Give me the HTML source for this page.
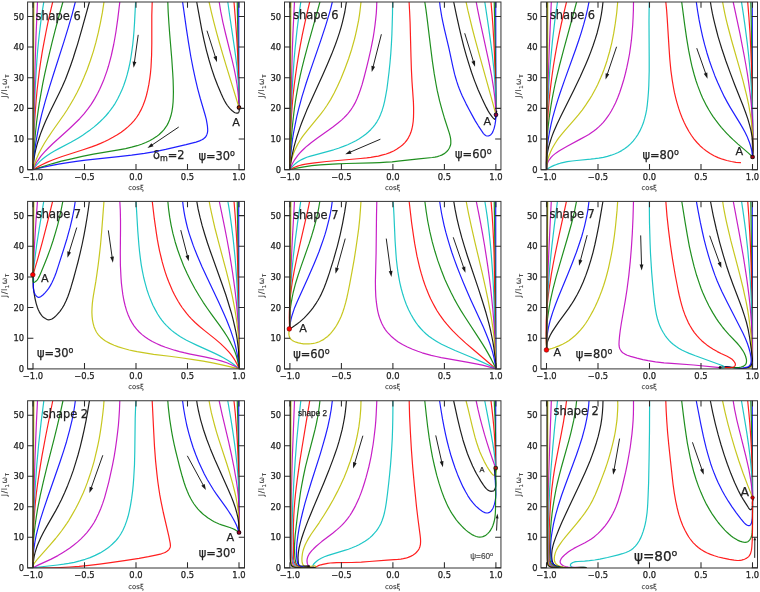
<!DOCTYPE html><html><head><meta charset="utf-8"><title>Alignment trajectories</title><style>html,body{margin:0;padding:0;background:#fff}svg{display:block}text{font-family:"DejaVu Sans","Liberation Sans",sans-serif;fill:#222;stroke:#222;stroke-width:0.25px}</style></head><body>
<svg width="760" height="592" viewBox="0 0 760 592">
<rect width="760" height="592" fill="#fff"/>
<defs>
<clipPath id="cp00"><rect x="27.60" y="2.00" width="216.90" height="167.70"/></clipPath>
<clipPath id="cp01"><rect x="284.50" y="2.00" width="216.45" height="167.70"/></clipPath>
<clipPath id="cp02"><rect x="540.95" y="2.00" width="216.55" height="167.70"/></clipPath>
<clipPath id="cp10"><rect x="27.60" y="201.40" width="216.90" height="167.50"/></clipPath>
<clipPath id="cp11"><rect x="284.50" y="201.40" width="216.45" height="167.50"/></clipPath>
<clipPath id="cp12"><rect x="540.95" y="201.40" width="216.55" height="167.50"/></clipPath>
<clipPath id="cp20"><rect x="27.60" y="400.75" width="216.90" height="167.25"/></clipPath>
<clipPath id="cp21"><rect x="284.50" y="400.75" width="216.45" height="167.25"/></clipPath>
<clipPath id="cp22"><rect x="540.95" y="400.75" width="216.55" height="167.25"/></clipPath>
</defs>
<g id="panel00">
<g clip-path="url(#cp00)" fill="none" stroke-linecap="round" stroke-linejoin="round" stroke-opacity="0.88">
<path d="M238.69,2.00L238.98,107.52" stroke="#0000ff" stroke-width="1.20"/>
<path d="M237.26,2.00C237.73,30.01 238.40,67.23 238.69,86.04C238.83,95.55 238.88,100.36 238.98,107.52" stroke="#008000" stroke-width="1.20"/>
<path d="M234.0,2.0l1.1,13.5l1,13.1l0.9,13.5l0.7,13.1l0.6,13.1l0.4,13l0.2,13.1l0.1,13.1" stroke="#ff0000" stroke-width="1.20"/>
<path d="M227.8,2.0l1.5,11l5.1,34.3l1.5,11l1.1,9.5l1,11l0.7,10.1l0.3,9.5l0,9.1" stroke="#00bfbf" stroke-width="1.20"/>
<path d="M219.2,2.0l1.5,9.4l2.2,10.9l2.5,10.7l6.8,27.4l1.9,8.3l1.5,7.4l1.4,8.4l1,8l0.7,7.5l0.3,7.5" stroke="#bf00bf" stroke-width="1.20"/>
<path d="M209.1,2.0l2.2,9.8l2.4,9.8l2.8,10.7l3.1,11.2l3.1,10.6l3.6,12.1l12.7,41.3" stroke="#bfbf00" stroke-width="1.20"/>
<path d="M196.7,2.0l2.9,15.9l2.2,11.9l2.3,10.8l2.3,9.7l2.5,9.2l2.7,9.1l2.9,8.6l3.1,8.1l3.6,8.5l1.7,3.7l1.6,3.2l1.5,2.7l1.4,2.1l1.5,1.9l1.3,1.5l1.7,1.6l1.9,1.4l1.2,0.8l0.9,0.3l0.8,0.2l0.4,0l0.7,-0.1l0.4,-0.2l0.5,-0.6l0.2,-0.4l0.3,-1.1l0.1,-0.6l-0.2,-1.4l-0.1,-0.9" stroke="#000000" stroke-width="1.20"/>
<path d="M182.6,2.0l3.8,26.8l2.2,14.4l2.2,13.3l2.4,12.3l2.2,10.3l2.3,9.7l2.6,9.7l4.7,16l1.3,4.9l0.7,3.9l0.4,2.5l0.2,2.5l0.1,2l-0.1,1.5l-0.4,1.8l-0.5,1.3l-0.6,1.3l-0.8,1.1l-1.4,1.2l-0.7,0.6l-1.3,0.7l-2.3,1.1l-3.6,1.2l-10,2.6l-10.6,2.5l-9.7,2.2l-9.4,1.9l-11.8,2l-12.9,1.8l-13,1.5l-32.9,3.6l-9.4,1.2l-8.4,1.2l-9.4,1.5l-8.9,1.7l-8.3,1.8l-8.3,2.1" stroke="#0000ff" stroke-width="1.20"/>
<path d="M167.8,2.0l0.4,10.2l0.7,11.1l0.8,10.8l2.1,25.1l0.9,13.5l0.4,7.1l0.2,6.7l0.1,5.7l-0.1,4.7l-0.2,5.1l-0.5,5.1l-0.7,4.5l-1,4.2l-0.8,2.4l-0.6,1.8l-1.5,3.4l-0.9,1.7l-1,1.6l-1.9,2.7l-2.2,2.4l-2.8,2.7l-2.7,2.1l-3.4,2.2l-3.5,2l-3.8,1.7l-4.3,1.8l-4.4,1.4l-5.5,1.5l-6,1.4l-5.5,1l-16.3,2.7l-10.4,1.9l-11.2,2.2l-10.6,2.4l-10.2,2.4l-9.6,2.6l-9.6,2.9l-9.2,3" stroke="#008000" stroke-width="1.20"/>
<path d="M152.2,2.0l-0.2,6.5l-0.2,6.9l0,28.2l-0.2,11.6l-0.3,6l-0.3,6l-0.5,5.6l-0.7,5.5l-0.9,5.9l-1.2,6l-1.3,5.3l-1.6,5.3l-1.8,4.7l-2,4.4l-2.1,3.9l-2.4,3.7l-2.4,3.1l-3,3.3l-2.9,2.7l-3.4,2.9l-3.6,2.7l-3.9,2.6l-4.4,2.5l-4.5,2.4l-3.6,1.8l-4.2,1.9l-4.2,1.7l-4.8,1.8l-8.5,2.9l-21,6.7l-5.6,2l-4.6,1.8l-5.1,2.1l-5,2.3l-4.4,2.4l-4.4,2.6" stroke="#ff0000" stroke-width="1.20"/>
<path d="M135.6,2.0l-1.1,21.4l-0.5,7.6l-0.6,7.1l-0.7,6.7l-0.9,6.6l-0.9,6.1l-1.1,6.1l-1.3,5.9l-1.4,5.4l-1.6,5.4l-1.8,5.2l-1.8,4.6l-2.1,4.5l-2.2,4.4l-2.4,4.3l-2.2,3.3l-2,2.8l-2.4,3.1l-2.5,3l-2.7,2.9l-3.2,3.1l-3,2.7l-3.4,2.9l-3.6,2.8l-3.7,2.7l-3.8,2.6l-4.3,2.7l-3.5,2.1l-4,2.3l-12.1,6.3l-4.4,2.4l-3.8,2.3l-3.7,2.4l-2.4,1.8l-1.9,1.5l-1.8,1.6l-1.8,1.7l-1.7,1.8l-1.6,1.9l-1.6,2l-1.1,1.7" stroke="#00bfbf" stroke-width="1.20"/>
<path d="M119.8,2.0l-2,16.6l-1.9,13.4l-1.1,6.5l-1.1,6l-1.2,5.5l-1.2,5.5l-1.4,5.4l-1.5,5.4l-1.5,4.8l-1.7,4.8l-1.7,4.7l-1.8,4.1l-2,4.6l-2,4l-3.1,5.6l-3.4,5.5l-3.5,4.8l-3.7,4.7l-4.3,4.8l-5.4,5.3l-5.5,5.2l-15.8,14.3l-4.6,4.5l-3.8,3.9l-2,2.3l-1.9,2.2l-1.7,2.4l-1.4,2l-1.3,2.1l-1.2,2.2l-1.1,2.3l-1,2.3" stroke="#bf00bf" stroke-width="1.20"/>
<path d="M104.0,2.0l-1.6,10.4l-2,10.4l-2.1,9.9l-2.4,9.7l-2.6,9.2l-3,9.1l-3.2,9l-3.4,8.4l-3.2,7.3l-3.3,6.8l-3.5,6.6l-3.8,6.5l-2.9,4.7l-3.3,5l-11.6,16.5l-3.9,5.8l-3.5,5.5l-3,5.2l-3,5.7l-1.2,2.7l-1.2,2.8l-1.8,5.1l-0.9,2.9l-0.6,2.5" stroke="#bfbf00" stroke-width="1.20"/>
<path d="M89.4,2.0l-7.5,27.1l-4.3,15l-2.3,7.2l-2.1,6.7l-2.3,6.7l-2.2,6.1l-3.2,8.4l-3.2,7.3l-2.8,5.9l-8.9,18l-4.9,10.5l-1.9,4.6l-1.7,4.2l-1.6,4.2l-1.3,3.8l-1.4,4.3l-1.1,3.8l-1.1,4.4l-0.8,3.9l-0.7,4l-0.5,4l-0.4,4l-0.2,3.6" stroke="#000000" stroke-width="1.20"/>
<path d="M75.3,2.0l-3.1,12.1l-3.8,13.1l-4.6,14.9l-10,31.1l-4.2,13.4l-4.3,14.5l-3.4,12.6l-1.9,7.8l-1.6,7.3l-1.4,7.4l-1.2,6.9l-1,7l-0.8,6.5l-0.6,6.5l-0.4,6.6" stroke="#0000ff" stroke-width="1.20"/>
<path d="M62.9,2.0l-4.2,15l-3.5,13.1l-3,11.7l-2.7,11.3l-2.5,10.7l-2.3,10.3l-2,9.8l-1.7,9.4l-1.7,9.9l-1.4,9.4l-1.3,9.5l-1,9.4l-0.9,9.6l-0.8,9.5l-0.5,9.5l-0.4,9.6" stroke="#008000" stroke-width="1.20"/>
<path d="M52.7,2.0l-2.5,10.3l-2.2,9.8l-2,9.9l-1.9,9.8l-1.8,9.9l-1.6,9.9l-1.4,9.9l-1.2,10l-1.1,9.5l-0.9,10l-0.8,10.5l-0.7,10.5l-0.6,11l-0.4,11.6l-0.3,12l-0.3,13.1" stroke="#ff0000" stroke-width="1.20"/>
<path d="M43.8,2.0l-1.3,7.9l-1.2,8l-1,8l-1,8.4l-0.9,8.5l-0.8,8.5l-0.7,9l-0.6,9.5l-1.1,18.6l-0.7,20.1l-0.6,21.5l-0.9,39.7" stroke="#00bfbf" stroke-width="1.20"/>
<path d="M37.5,2.0l-1.5,34.1l-1.2,37.7l-0.9,41.7l-0.9,54.2" stroke="#bf00bf" stroke-width="1.20"/>
<path d="M33.9,2.0l-0.2,33.6l-0.2,86.9l-0.2,24.6l-0.3,22.6" stroke="#bfbf00" stroke-width="1.20"/>
<path d="M33.00,-2.00L33.00,169.70" stroke="#000000" stroke-width="1.20"/>
</g>
<path d="M138.21,34.84L134.33,62.72" stroke="#222" stroke-width="1.00" fill="none"/>
<path d="M133.64,67.67L132.59,61.47L136.35,61.99Z" fill="#1a1a1a"/>
<path d="M206.99,30.68L215.52,57.47" stroke="#222" stroke-width="1.00" fill="none"/>
<path d="M217.03,62.24L213.40,57.10L217.02,55.94Z" fill="#1a1a1a"/>
<path d="M178.74,127.02L151.62,145.31" stroke="#222" stroke-width="1.00" fill="none"/>
<path d="M147.47,148.11L151.39,143.18L153.51,146.33Z" fill="#1a1a1a"/>
<circle cx="238.98" cy="107.52" r="1.80" fill="#b03000" stroke="#250000" stroke-width="1.10"/>
<rect x="27.60" y="2.00" width="216.90" height="167.70" fill="none" stroke="#333" stroke-width="1"/>
<path d="M33.00,169.70v-5.8M33.00,2.00v5.8M84.50,169.70v-5.8M84.50,2.00v5.8M136.00,169.70v-5.8M136.00,2.00v5.8M187.50,169.70v-5.8M187.50,2.00v5.8M239.00,169.70v-5.8M239.00,2.00v5.8M27.60,169.70h5.8M244.50,169.70h-5.8M27.60,139.04h5.8M244.50,139.04h-5.8M27.60,108.38h5.8M244.50,108.38h-5.8M27.60,77.72h5.8M244.50,77.72h-5.8M27.60,47.06h5.8M244.50,47.06h-5.8M27.60,16.40h5.8M244.50,16.40h-5.8" stroke="#2a2a2a" stroke-width="1.05" fill="none"/>
<text x="33.00" y="179.90" font-size="8.4" text-anchor="middle">−1.0</text>
<text x="84.50" y="179.90" font-size="8.4" text-anchor="middle">−0.5</text>
<text x="136.00" y="179.90" font-size="8.4" text-anchor="middle">0.0</text>
<text x="187.50" y="179.90" font-size="8.4" text-anchor="middle">0.5</text>
<text x="239.00" y="179.90" font-size="8.4" text-anchor="middle">1.0</text>
<text x="24.20" y="172.80" font-size="8.4" text-anchor="end">0</text>
<text x="24.20" y="142.14" font-size="8.4" text-anchor="end">10</text>
<text x="24.20" y="111.48" font-size="8.4" text-anchor="end">20</text>
<text x="24.20" y="80.82" font-size="8.4" text-anchor="end">30</text>
<text x="24.20" y="50.16" font-size="8.4" text-anchor="end">40</text>
<text x="24.20" y="19.50" font-size="8.4" text-anchor="end">50</text>
<text x="136.05" y="190.20" font-size="6.9" text-anchor="middle" style="fill:#3a3a3a;stroke:#3a3a3a;stroke-width:0.12px">cosξ</text>
<text transform="translate(7.40,85.85) rotate(-90)" font-size="7.9" text-anchor="middle" letter-spacing="0.55" style="fill:#3a3a3a;stroke:#3a3a3a;stroke-width:0.12px">J/I<tspan font-size="5.4" dy="2">1</tspan><tspan dy="-2">ω</tspan><tspan font-size="5.4" dy="2">T</tspan></text>
<text x="235.96" y="126.02" font-size="11.20" text-anchor="middle">A</text>
<text x="35.46" y="19.93" font-size="11.40" text-anchor="start">shape 6</text>
<text x="152.92" y="159.01" font-size="11.40" text-anchor="start">δ<tspan font-size="8" dy="2">m</tspan><tspan dy="-2">=2</tspan></text>
<text x="198.39" y="159.72" font-size="11.40" text-anchor="start">ψ=30<tspan font-size="8" dy="-4">o</tspan></text>
</g>
<g id="panel01">
<g clip-path="url(#cp01)" fill="none" stroke-linecap="round" stroke-linejoin="round" stroke-opacity="0.88">
<path d="M495.69,2.00L495.98,114.83" stroke="#0000ff" stroke-width="1.20"/>
<path d="M494.26,2.00C494.64,21.12 495.11,40.41 495.40,59.37C495.69,78.01 495.79,96.34 495.98,114.83" stroke="#008000" stroke-width="1.20"/>
<path d="M491.0,2.0l1,11.6l0.9,12l0.7,12.1l0.7,13.1l0.5,13.6l0.5,14.6l0.7,35.8" stroke="#ff0000" stroke-width="1.20"/>
<path d="M484.8,2.0l3.5,23.3l2.2,15.5l1.8,13.9l1.4,13l1.1,12.5l0.7,12l0.4,11.6l0.1,11" stroke="#00bfbf" stroke-width="1.20"/>
<path d="M476.2,2.0l1.6,8.4l2,9.8l8.7,39.9l1.7,8.3l1.5,8l1.7,10.4l1.3,9.9l0.8,9.1l0.5,9" stroke="#bf00bf" stroke-width="1.20"/>
<path d="M466.1,2.0l1.8,8.4l2.1,8.8l2.3,9.3l2.5,9.7l4.9,18l11.4,40.7l4.9,17.9" stroke="#bfbf00" stroke-width="1.20"/>
<path d="M453.7,2.0l2.9,13.8l2.5,11.3l2.4,10.3l2.3,9.2l2.6,9.2l2.6,8.6l2.6,8.1l2.9,8.1l3.5,8.9l3.9,8.8l2.2,4.6l2.2,4.5l1.7,3.2l1.5,2.6l1.4,2l1.1,1.5l1.3,1.4l1.3,1.2l0.3,0.1l0.4,-0.4l0.4,-1.2l0.4,-2l0.5,-4l0.1,-0.8l-0.2,0.8l-0.5,3" stroke="#000000" stroke-width="1.20"/>
<path d="M439.6,2.0l0.5,4.5l0.8,5l0.8,4.9l1.1,5.4l1.7,7.9l4.4,18.5l4,18.7l1.7,7.3l1.1,3.8l1.2,3.9l1.1,3.3l1.2,3.3l1.5,3.7l1.6,3.7l3.7,7.7l3.2,6.2l3.3,6.1l2.9,5.2l2.9,4.7l3.2,4.9l1.8,2.6l1.4,1.5l0.7,0.5l0.7,0.4l0.8,0.3l0.9,0l0.9,-0.1l1.3,-0.6l0.8,-0.6l0.7,-0.8l0.6,-0.8l0.8,-1.5l0.6,-1.5l0.7,-2l0.8,-3.4l0.6,-3.9l0.4,-6" stroke="#0000ff" stroke-width="1.20"/>
<path d="M424.8,2.0l1.2,7.9l1.1,8.4l3.7,30.5l1.6,12.5l1.8,12.4l1.9,10.8l1.1,5.9l1.2,5.3l1.2,5.2l1.4,5.3l1.6,5.7l1.7,5.8l5,15.4l0.8,3.1l0.5,2.5l0.2,1.9l0,1.4l0,1.4l-0.2,1.4l-0.4,1.3l-0.5,1.2l-0.6,1.2l-1.1,1.6l-1.2,1.4l-1.4,1.2l-1.6,1.2l-2.2,1.2l-1.8,0.7l-2.4,0.8l-2.5,0.5l-2.6,0.4l-13.5,1.3l-20.8,2.4l-5.9,0.6l-5.4,0.4l-7,0.4l-7.5,0.3l-25.7,0.6l-9.1,0.3l-9.1,0.5l-8,0.5l-8.4,0.9l-7.9,1.1l-7.3,1.4l-6.8,1.5" stroke="#008000" stroke-width="1.20"/>
<path d="M409.1,2.0l0.5,9.5l0.5,11.1l0.9,34.5l0.4,12.5l0.6,12l1.4,20l0.2,6.1l0,5.1l-0.1,4.6l-0.3,4.1l-0.6,4.1l-0.7,3.4l-1,3.3l-1.1,2.7l-1.3,2.6l-1.5,2.4l-2.1,2.6l-2.4,2.4l-2.7,2.1l-3.2,2.2l-3,1.7l-3.7,1.6l-3.7,1.4l-4.4,1.2l-3.4,0.9l-3.6,0.6l-4,0.7l-4.1,0.5l-6.2,0.6l-22.6,2l-11.3,1l-11.9,1.3l-7.4,1l-3,0.5l-2.4,0.6l-2.4,0.6l-1.9,0.6l-2.3,0.9l-1.9,0.8l-1.8,0.9l-1.7,1" stroke="#ff0000" stroke-width="1.20"/>
<path d="M392.6,2.0l-0.1,11.8l-0.3,10.5l-0.3,9.9l-0.5,9.9l-0.6,9.3l-0.8,9.3l-1,9.5l-1.1,9.1l-1,7.7l-1.1,6.2l-1.1,5.6l-1.2,5l-1.3,4.4l-1.6,4.2l-1.8,4.1l-1.9,3.3l-1.9,2.8l-2,2.6l-2.3,2.5l-2.4,2.3l-2.6,2.2l-3.1,2.3l-3.3,2.2l-3.4,2l-4.1,2.1l-4.1,1.9l-4.3,1.7l-4.9,1.8l-4.9,1.6l-5.5,1.6l-13.8,3.7l-3.8,1l-3.7,1.2l-3.1,1.3l-2.1,1l-2.1,1.2l-2,1.3l-1.6,1.2l-1.9,1.6l-1.4,1.5l-1.4,1.5l-1.3,1.8" stroke="#00bfbf" stroke-width="1.20"/>
<path d="M376.8,2.0l-0.2,5.6l-0.3,5.5l-0.6,6l-0.7,6l-0.8,5.9l-0.9,5.8l-1.2,6.4l-1.4,6.8l-1.9,8.3l-2.1,8.8l-2.8,10.9l-1.9,6.9l-1.6,4.9l-1.7,4.8l-1.7,4.2l-1.9,4.1l-1.4,2.5l-1.3,2.1l-1.4,2.1l-1.7,2.3l-1.6,1.9l-2,2.2l-2.1,2.1l-2.1,2l-3.8,3.2l-4.8,3.7l-4.5,3.3l-11.3,7.9l-5.7,4.3l-2.7,2.2l-2.7,2.2l-2.2,2.1l-2.1,2l-2,2.2l-1.9,2.2l-1.8,2.4l-1.6,2.4l-1.5,2.6l-1.1,2.2l-1,2.3l-0.9,2.4" stroke="#bf00bf" stroke-width="1.20"/>
<path d="M361.0,2.0l-1,8.9l-0.6,4.5l-0.8,5l-1.9,9.3l-1.1,4.9l-1.2,4.9l-2.7,9.7l-3.1,9.6l-3.7,9.9l-3.9,9.8l-3.5,7.8l-3.3,6.7l-3.6,6.6l-3.7,5.9l-3.1,4.5l-3.3,4.4l-3.5,4.3l-8.4,10.1l-4,5.1l-2.1,2.8l-1.7,2.5l-2.8,4.6l-1.6,3.1l-1.5,3.1l-1.3,3.3l-1.1,3.3l-1,3.4l-0.7,3l-0.6,3.6l-0.3,3.1" stroke="#bfbf00" stroke-width="1.20"/>
<path d="M346.4,2.0l-0.8,5l-0.8,5l-1.1,4.9l-1.3,5.4l-1.4,5.3l-1.6,5.3l-1.9,5.7l-2,5.7l-3.8,9.8l-4.5,10.6l-4.5,10.2l-10.8,23.8l-5.3,11.9l-4.5,11.2l-1.9,5.1l-1.8,5.2l-1.7,5.2l-1.4,4.8l-1.3,4.8l-1,4.4l-1.1,4.9l-0.8,4.5l-0.7,4.5l-0.5,4.5" stroke="#000000" stroke-width="1.20"/>
<path d="M332.3,2.0l-1.4,5.8l-1.6,5.8l-3.8,12.5l-4.7,14.3l-10.2,29.5l-4.3,12.8l-2.2,7.2l-2.1,6.7l-1.7,6.3l-1.7,6.3l-1.9,7.7l-1.6,7.9l-1.5,7.8l-1.2,7.5l-0.9,7.4l-0.8,7.5l-0.5,7.6l-0.3,7.1" stroke="#0000ff" stroke-width="1.20"/>
<path d="M319.9,2.0l-3.3,12.1l-8.4,30l-4,15l-2.2,8.8l-1.9,8.3l-1.6,7.8l-1.4,7.4l-1.5,8.8l-1.3,9l-1.1,9.4l-1,9.5l-0.8,10l-0.7,10l-0.5,10.5l-0.3,11.1" stroke="#008000" stroke-width="1.20"/>
<path d="M309.7,2.0l-2.7,11.3l-2.4,10.8l-2.3,10.8l-2,10.4l-1.8,10.3l-1.6,10l-1.4,9.9l-1.3,9.9l-1.1,10l-0.9,10l-0.7,10l-0.7,10.5l-0.4,10.6l-0.3,11l-0.2,11.1l0,11.1" stroke="#ff0000" stroke-width="1.20"/>
<path d="M300.8,2.0l-1.3,9l-1.2,8.9l-1.2,9.5l-1,9.5l-1,9.5l-0.9,10l-1.4,20l-1.2,20.5l-0.9,22.1l-0.5,23.1l-0.3,25.6" stroke="#00bfbf" stroke-width="1.20"/>
<path d="M294.5,2.0l-0.8,15.6l-0.8,16.5l-0.6,17.1l-0.5,18.1l-0.9,38.1l-1,62.3" stroke="#bf00bf" stroke-width="1.20"/>
<path d="M290.9,2.0l-0.2,33.6l-0.2,86.9l-0.2,24.6l-0.4,22.6" stroke="#bfbf00" stroke-width="1.20"/>
<path d="M289.90,-2.00L289.90,169.70" stroke="#000000" stroke-width="1.20"/>
</g>
<path d="M381.38,34.27L373.00,67.14" stroke="#222" stroke-width="1.00" fill="none"/>
<path d="M371.77,71.99L371.41,65.71L375.09,66.64Z" fill="#1a1a1a"/>
<path d="M464.71,33.27L473.57,62.05" stroke="#222" stroke-width="1.00" fill="none"/>
<path d="M475.04,66.83L471.46,61.65L475.09,60.53Z" fill="#1a1a1a"/>
<path d="M380.38,139.21L349.83,152.30" stroke="#222" stroke-width="1.00" fill="none"/>
<path d="M345.24,154.27L350.00,150.16L351.50,153.66Z" fill="#1a1a1a"/>
<circle cx="495.98" cy="114.83" r="1.80" fill="#a00030" stroke="#201040" stroke-width="1.10"/>
<rect x="284.50" y="2.00" width="216.45" height="167.70" fill="none" stroke="#333" stroke-width="1"/>
<path d="M289.90,169.70v-5.8M289.90,2.00v5.8M341.40,169.70v-5.8M341.40,2.00v5.8M392.90,169.70v-5.8M392.90,2.00v5.8M444.40,169.70v-5.8M444.40,2.00v5.8M495.90,169.70v-5.8M495.90,2.00v5.8M284.50,169.70h5.8M500.95,169.70h-5.8M284.50,139.04h5.8M500.95,139.04h-5.8M284.50,108.38h5.8M500.95,108.38h-5.8M284.50,77.72h5.8M500.95,77.72h-5.8M284.50,47.06h5.8M500.95,47.06h-5.8M284.50,16.40h5.8M500.95,16.40h-5.8" stroke="#2a2a2a" stroke-width="1.05" fill="none"/>
<text x="289.90" y="179.90" font-size="8.4" text-anchor="middle">−1.0</text>
<text x="341.40" y="179.90" font-size="8.4" text-anchor="middle">−0.5</text>
<text x="392.90" y="179.90" font-size="8.4" text-anchor="middle">0.0</text>
<text x="444.40" y="179.90" font-size="8.4" text-anchor="middle">0.5</text>
<text x="495.90" y="179.90" font-size="8.4" text-anchor="middle">1.0</text>
<text x="281.10" y="172.80" font-size="8.4" text-anchor="end">0</text>
<text x="281.10" y="142.14" font-size="8.4" text-anchor="end">10</text>
<text x="281.10" y="111.48" font-size="8.4" text-anchor="end">20</text>
<text x="281.10" y="80.82" font-size="8.4" text-anchor="end">30</text>
<text x="281.10" y="50.16" font-size="8.4" text-anchor="end">40</text>
<text x="281.10" y="19.50" font-size="8.4" text-anchor="end">50</text>
<text x="392.73" y="190.20" font-size="6.9" text-anchor="middle" style="fill:#3a3a3a;stroke:#3a3a3a;stroke-width:0.12px">cosξ</text>
<text transform="translate(264.30,85.85) rotate(-90)" font-size="7.9" text-anchor="middle" letter-spacing="0.55" style="fill:#3a3a3a;stroke:#3a3a3a;stroke-width:0.12px">J/I<tspan font-size="5.4" dy="2">1</tspan><tspan dy="-2">ω</tspan><tspan font-size="5.4" dy="2">T</tspan></text>
<text x="487.37" y="125.30" font-size="11.20" text-anchor="middle">A</text>
<text x="293.18" y="18.92" font-size="11.40" text-anchor="start">shape 6</text>
<text x="455.10" y="158.29" font-size="11.40" text-anchor="start">ψ=60<tspan font-size="8" dy="-4">o</tspan></text>
</g>
<g id="panel02">
<g clip-path="url(#cp02)" fill="none" stroke-linecap="round" stroke-linejoin="round" stroke-opacity="0.88">
<path d="M752.26,2.00L752.55,157.00" stroke="#0000ff" stroke-width="1.20"/>
<path d="M750.83,2.00C751.26,25.90 751.83,48.91 752.12,73.71C752.43,100.43 752.41,129.24 752.55,157.00" stroke="#008000" stroke-width="1.20"/>
<path d="M747.7,2.0l1.2,15l1.1,16l0.8,16.6l0.7,17l0.4,17.6l0.4,19.6l0.1,21.6l0.2,31.6" stroke="#ff0000" stroke-width="1.20"/>
<path d="M741.5,2.0l1.6,10.4l1.5,10.5l1.4,10.4l1.3,10l1.1,10l1,9.9l0.9,10l0.7,9.5l0.6,9.5l0.5,9.6l0.4,9.5l0.3,9l0.1,9.6l0,9l-0.1,9l-0.3,9.1" stroke="#00bfbf" stroke-width="1.20"/>
<path d="M733.2,2.0l6.7,31.4l2.2,11.4l1.9,9.8l1.8,9.9l1.6,9.4l1.3,9l1.2,8.9l1,9l0.9,8.5l0.6,8.5l0.4,8l0.2,8l0.1,8.1l-0.2,7.5l-0.4,7.6" stroke="#bf00bf" stroke-width="1.20"/>
<path d="M722.6,2.0l1.1,5.9l1.2,5.9l1.4,6.3l1.6,6.4l3.7,14l8.2,28.6l3.3,12.1l1.7,6.8l1.6,6.3l1.3,5.9l1.2,5.8l1.2,6.9l1.1,6.9l0.7,6.5l0.6,6.4l0.4,6.6l0.1,6l-0.1,6.1l-0.4,5.6" stroke="#bfbf00" stroke-width="1.20"/>
<path d="M710.4,2.0l0.9,5.5l1.1,5.9l1.2,5.4l1.4,5.9l1.5,5.8l1.5,5.8l1.9,6.3l1.9,6.2l4,11.9l4.6,12.7l4.3,11.3l8,20.1l2.8,7.5l2.3,6.6l1.8,6.2l1.1,4.3l0.8,3.9l0.7,3.9l0.4,4l0.3,4l0.1,4.1l-0.2,4.1l-0.3,3.6" stroke="#000000" stroke-width="1.20"/>
<path d="M696.3,2.0l1.3,9l1.5,8.9l1.7,8.4l1.8,8.3l2.1,8.3l2.2,7.8l2.5,8.1l2.7,7.6l2.8,7.5l2.9,6.9l3.3,7.3l3.3,6.8l3.1,5.7l3,5.3l9.2,15l2.8,4.7l2.4,4.4l2.2,4.4l1.1,2.8l1.1,2.7l0.9,2.8l0.7,2.4l0.6,2.4l0.5,2.4l0.3,2.5l0.3,2.6" stroke="#0000ff" stroke-width="1.20"/>
<path d="M681.7,2.0l3.1,23.6l1.8,12.5l2,12.1l2.1,10.4l1.2,5.5l1.3,4.9l1.3,4.8l1.5,4.9l1.6,4.7l1.6,4.2l1.6,4.2l1.8,4.1l2,4.1l2,3.9l2.2,3.9l2.1,3.4l2.2,3.4l2.6,3.6l2.8,3.6l2.8,3.5l2.7,3.1l2.7,2.9l2.8,2.9l3.3,3.2l5.2,4.7l10.2,8.8l4.4,4.1" stroke="#008000" stroke-width="1.20"/>
<path d="M665.8,2.0l0.8,7.9l0.6,8.4l1.8,29.1l0.8,11.6l1.1,11.6l1.4,10l1,5.9l1.1,5.9l1.3,5.4l1.4,5.3l1.6,5.3l1.6,4.7l1.8,4.7l2.1,4.6l2.2,4.5l2.4,4.4l2.7,4.2l2.6,3.6l2.9,3.4l3,3.2l3.3,2.9l3.1,2.4l3.7,2.5l3.9,2.2l4.1,1.9l4.3,1.6l4.4,1.3l4.5,1l4.6,0.8l4.6,0.4" stroke="#ff0000" stroke-width="1.20"/>
<path d="M649.3,2.0l-0.2,9.1l-0.1,10.1l0.2,35.9l0,13.9l-0.2,7.5l-0.2,7.1l-0.4,7.1l-0.5,6l-0.6,6.1l-0.7,5.1l-0.9,4.4l-1.1,4.4l-1.3,4.4l-1.5,3.7l-1.9,4.1l-1.9,3.4l-2.5,3.7l-2.4,3.1l-2.6,2.8l-2.9,2.6l-3,2.3l-2.9,1.8l-3.5,1.9l-3.6,1.5l-3.3,1.2l-3.9,1.1l-4,1l-4.6,0.8l-4.1,0.6l-4.1,0.5l-13.9,1.3l-4.6,0.5l-4.9,0.7l-4.4,0.9l-2.4,0.6l-2.3,0.7l-2.2,0.8l-1.8,0.7l-2.2,1l-1.7,0.9l-2.1,1.3l-1.6,1.1" stroke="#00bfbf" stroke-width="1.20"/>
<path d="M633.5,2.0l-0.1,8.1l-0.3,7.6l-0.4,7.6l-0.6,7.4l-0.7,7.5l-0.9,6.9l-1,6.9l-1.2,6.3l-1.4,6.9l-1.5,6.3l-1.8,6.8l-2,6.4l-1.9,5.8l-2,5.2l-2.2,5.2l-2.3,4.6l-1.9,3.5l-1.8,3l-2,2.9l-2,2.8l-2.2,2.7l-2.4,2.5l-2.1,2l-2.7,2.3l-2.3,1.8l-2.5,1.7l-2.5,1.7l-3.1,1.8l-5.8,3.2l-12.7,6.8l-6.1,3.5l-2.5,1.6l-2.4,1.6l-1.9,1.5l-1.5,1.2l-1.7,1.7l-1.1,1.5l-1.1,1.5l-0.9,1.7l-0.7,1.8l-0.5,2l-0.2,2.2l-0.1,1.7" stroke="#bf00bf" stroke-width="1.20"/>
<path d="M617.7,2.0l-1,11l-1.4,10.4l-1.6,10l-1.9,9.4l-2.3,9.2l-2.5,8.7l-1.4,4.3l-1.5,4.3l-1.6,4.2l-1.7,4.1l-3.3,7.3l-1.8,3.6l-1.9,3.5l-1.9,3.5l-2.1,3.4l-4.1,6.3l-3.5,4.9l-3.8,4.8l-3.6,4.2l-9.4,10.7l-4.4,5.4l-2.2,2.7l-2,2.8l-1.6,2.5l-1.5,2.5l-1.7,3l-1.4,3l-1.3,3.2l-0.9,2.8l-0.8,2.8l-0.6,3l-0.3,3l-0.2,3.2" stroke="#bfbf00" stroke-width="1.20"/>
<path d="M603.0,2.0l-0.7,6.1l-0.9,6l-1.1,5.9l-1.5,6.4l-1.6,6.3l-1.9,6.2l-2.2,6.6l-2.4,6.6l-2.4,6.1l-2.5,6l-2.8,6.4l-2.9,6.4l-6.1,12.7l-13.2,26.5l-3.7,7.7l-3.4,7.8l-1.4,3.7l-1.3,3.7l-1.3,4.2l-1.1,3.9l-0.8,3.8l-0.7,4l-0.4,3.9l-0.3,3.6l0,3.6l0.1,3.6" stroke="#000000" stroke-width="1.20"/>
<path d="M589.0,2.0l-1.5,7.4l-1.7,7.3l-2.1,7.7l-2.6,8.7l-2.5,7.6l-2.9,8.6l-11.3,31.3l-4.3,12.4l-2.2,6.6l-1.9,6.3l-1.8,6.2l-1.6,5.8l-1.6,6.8l-1.4,6.9l-1.2,6.8l-0.9,6.5l-0.6,6.5l-0.4,6l-0.1,6.1l0.1,6.2" stroke="#0000ff" stroke-width="1.20"/>
<path d="M576.6,2.0l-3.9,14.5l-9.1,33.4l-4.1,15.6l-2.3,9.3l-2,8.7l-1.7,8.4l-1.5,7.8l-1.5,8.9l-1.3,9l-1,8.9l-0.8,8.5l-0.6,9l-0.3,8.5l-0.1,8.6l0.1,8.6" stroke="#008000" stroke-width="1.20"/>
<path d="M566.5,2.0l-2.6,10.8l-2.5,10.7l-2.3,10.9l-2,10.3l-2,10.9l-1.7,10.4l-1.5,10.5l-1.3,10.4l-1.2,10.5l-0.9,10.5l-0.8,10.5l-0.6,10.1l-0.4,10.5l-0.3,10.1l0,10.5l0.1,10.1" stroke="#ff0000" stroke-width="1.20"/>
<path d="M557.5,2.0l-1.4,9.4l-1.3,9.5l-1.1,9.5l-1.2,10l-0.9,9.5l-0.9,9.9l-0.9,10.1l-0.7,10.5l-1.2,21l-0.8,22.1l-0.5,22.6l-0.1,23.6" stroke="#00bfbf" stroke-width="1.20"/>
<path d="M551.3,2.0l-1.1,25.1l-1,23.1l-0.8,22.1l-0.7,20.6l-0.5,20l-0.4,19.6l-0.2,19.1l-0.1,18.1" stroke="#bf00bf" stroke-width="1.20"/>
<path d="M547.7,2.0l0,26.6l-0.1,29.6l-1.1,111.5" stroke="#bfbf00" stroke-width="1.20"/>
<path d="M546.88,2.00L546.74,168.76" stroke="#000000" stroke-width="1.20"/>
</g>
<path d="M616.58,46.75L607.14,74.71" stroke="#222" stroke-width="1.00" fill="none"/>
<path d="M605.54,79.45L605.66,73.15L609.26,74.37Z" fill="#1a1a1a"/>
<path d="M696.76,48.18L705.86,74.01" stroke="#222" stroke-width="1.00" fill="none"/>
<path d="M707.52,78.73L703.73,73.70L707.32,72.44Z" fill="#1a1a1a"/>
<circle cx="752.55" cy="157.00" r="1.80" fill="#b00010" stroke="#301010" stroke-width="1.10"/>
<rect x="540.95" y="2.00" width="216.55" height="167.70" fill="none" stroke="#333" stroke-width="1"/>
<path d="M546.50,169.70v-5.8M546.50,2.00v5.8M598.00,169.70v-5.8M598.00,2.00v5.8M649.50,169.70v-5.8M649.50,2.00v5.8M701.00,169.70v-5.8M701.00,2.00v5.8M752.50,169.70v-5.8M752.50,2.00v5.8M540.95,169.70h5.8M757.50,169.70h-5.8M540.95,139.04h5.8M757.50,139.04h-5.8M540.95,108.38h5.8M757.50,108.38h-5.8M540.95,77.72h5.8M757.50,77.72h-5.8M540.95,47.06h5.8M757.50,47.06h-5.8M540.95,16.40h5.8M757.50,16.40h-5.8" stroke="#2a2a2a" stroke-width="1.05" fill="none"/>
<text x="546.50" y="179.90" font-size="8.4" text-anchor="middle">−1.0</text>
<text x="598.00" y="179.90" font-size="8.4" text-anchor="middle">−0.5</text>
<text x="649.50" y="179.90" font-size="8.4" text-anchor="middle">0.0</text>
<text x="701.00" y="179.90" font-size="8.4" text-anchor="middle">0.5</text>
<text x="752.50" y="179.90" font-size="8.4" text-anchor="middle">1.0</text>
<text x="537.55" y="172.80" font-size="8.4" text-anchor="end">0</text>
<text x="537.55" y="142.14" font-size="8.4" text-anchor="end">10</text>
<text x="537.55" y="111.48" font-size="8.4" text-anchor="end">20</text>
<text x="537.55" y="80.82" font-size="8.4" text-anchor="end">30</text>
<text x="537.55" y="50.16" font-size="8.4" text-anchor="end">40</text>
<text x="537.55" y="19.50" font-size="8.4" text-anchor="end">50</text>
<text x="649.23" y="190.20" font-size="6.9" text-anchor="middle" style="fill:#3a3a3a;stroke:#3a3a3a;stroke-width:0.12px">cosξ</text>
<text transform="translate(520.75,85.85) rotate(-90)" font-size="7.9" text-anchor="middle" letter-spacing="0.55" style="fill:#3a3a3a;stroke:#3a3a3a;stroke-width:0.12px">J/I<tspan font-size="5.4" dy="2">1</tspan><tspan dy="-2">ω</tspan><tspan font-size="5.4" dy="2">T</tspan></text>
<text x="739.21" y="154.56" font-size="11.20" text-anchor="middle">A</text>
<text x="549.89" y="18.92" font-size="11.40" text-anchor="start">shape 6</text>
<text x="642.55" y="158.72" font-size="11.40" text-anchor="start">ψ=80<tspan font-size="8" dy="-4">o</tspan></text>
</g>
<g id="panel10">
<g clip-path="url(#cp10)" fill="none" stroke-linecap="round" stroke-linejoin="round" stroke-opacity="0.88">
<path d="M238.69,201.00L239.00,368.90" stroke="#0000ff" stroke-width="1.20"/>
<path d="M237.26,201.00C237.64,229.01 238.11,257.05 238.40,285.04C238.69,313.01 238.80,340.95 239.00,368.90" stroke="#008000" stroke-width="1.20"/>
<path d="M234.0,201.0l1.2,15l1,15.5l0.9,16.5l0.6,17.6l0.4,16.5l0.3,18.6l0.6,68.2" stroke="#ff0000" stroke-width="1.20"/>
<path d="M227.8,201.0l1.5,8.9l1.3,9l1.2,9l1.2,9.5l1,9.5l1,10l0.8,10l0.7,10l0.6,10l0.6,10.6l0.4,11l0.4,11.1l0.4,23.6l0.1,25.7" stroke="#00bfbf" stroke-width="1.20"/>
<path d="M219.2,201.0l2.8,13.3l2.6,12.8l2.3,11.9l2.1,11.3l1.8,11l1.7,10.9l1.5,10.4l1.3,10l1.1,10l0.9,10l0.8,10l0.5,9.5l0.4,9.6l0.2,9l0,9.1l-0.2,9.1" stroke="#bf00bf" stroke-width="1.20"/>
<path d="M209.1,201.0l1.2,6.4l1.4,6.4l1.5,6.8l1.7,7.4l3.4,13.1l8,30.1l3.6,14.1l2.6,11.8l2.2,11.3l1.3,7.9l1.1,7.9l0.9,7.9l0.6,7.5l0.5,7.6l0.2,7l-0.1,7.6l-0.2,7.1" stroke="#bfbf00" stroke-width="1.20"/>
<path d="M196.7,201.0l1.4,7.9l1.9,8.3l2.1,8.2l2.7,9.1l2.6,8.2l2.9,8.5l11.2,31.3l4.3,12.3l2.1,6.7l1.9,6.2l1.7,5.7l1.5,5.8l1.6,6.8l1.4,6.3l1.1,6.4l0.8,6.5l0.7,5.9l0.3,6.1l0.2,6.1l-0.1,5.6" stroke="#000000" stroke-width="1.20"/>
<path d="M182.6,201.0l0.6,5.1l0.8,5.5l1,5.5l1.2,5.4l1.3,5.3l1.7,5.8l1.9,5.7l2.1,6.1l2,5.2l2.1,5.1l4.7,11l4.9,10.5l11.6,24.6l5.4,11.9l2.4,5.5l2,5.1l2,5.1l1.6,4.7l1.6,4.8l1.2,4.3l1.1,4.3l1,4.4l0.8,4.4l0.6,4l0.5,4.5l0.3,4.1" stroke="#0000ff" stroke-width="1.20"/>
<path d="M167.8,201.0l0.8,8.1l1.1,8.1l1.4,7.9l1.8,8.3l2.2,8.3l2.5,8.1l2.9,8l3.1,7.9l3.5,7.7l3.7,7.6l4,7.5l4.6,7.8l3.8,6l4.2,6.2l3.8,5.4l8.6,11.8l4,5.7l3.8,5.9l2.9,5.1l1.8,3.5l1.7,3.6l1.3,3.2l1.1,3.3l0.9,3.3l0.7,3l0.6,3.5l0.4,3.1" stroke="#008000" stroke-width="1.20"/>
<path d="M152.2,201.0l2.1,17.7l2,14l1,6.5l1.1,5.9l1.2,6l1.3,5.4l1.3,5.4l1.5,5.3l1.5,4.9l1.6,4.7l1.8,4.7l1.9,4.6l2,4.6l2,4l1.9,3.5l1.7,3l2.1,3.4l1.9,2.9l2.4,3.2l2.1,2.7l2.3,2.7l2.3,2.5l3.9,3.9l4.5,4l4.7,3.9l10.7,8.5l5.3,4.5l4.7,4.5l3.8,3.9l1.9,2.3l1.5,2l1.4,2l1.3,2.1l1.2,2.2l1.1,2.2l1.1,2.4l0.7,1.9" stroke="#ff0000" stroke-width="1.20"/>
<path d="M136.0,201.0l1.8,30.3l1.1,13.7l0.7,7l0.8,6.6l0.9,6.5l1.1,6l1.3,6.4l1.5,5.8l1.6,5.9l1.9,5.7l2,5.2l2.2,5.1l2.3,4.4l2.4,4.4l2.2,3.3l2,2.8l2.2,2.7l2.3,2.5l2.4,2.4l2.9,2.7l2.7,2.1l3.2,2.3l2.9,1.9l3,1.8l3.1,1.7l3.6,1.8l6.5,3.1l17.7,8l5.1,2.5l4,2.1l4.7,2.8l4.1,2.8l3.5,2.7l3.3,2.9" stroke="#00bfbf" stroke-width="1.20"/>
<path d="M119.8,201.0l0.5,9.2l0.2,10.1l0,9.5l-0.2,23.2l0.1,12.5l0.3,6l0.3,6l0.4,5.6l0.6,5.1l0.8,6.2l1,5.6l1.3,5.5l1.4,4.9l1.7,4.6l1.8,4.1l2.1,3.8l2.1,3.2l2.4,3.1l2.6,2.8l2.9,2.6l3.1,2.4l3.3,2.2l3.8,2.3l4.1,2l4.7,2.1l4.4,1.7l4.5,1.5l4.5,1.4l5,1.4l4.5,1.1l5,1.1l15.5,3.1l5.7,1.2l5.7,1.4l5.2,1.4l5.7,1.9l4.7,1.9l2.3,1.1l1.8,0.9l1.7,1.1l1.7,1.1" stroke="#bf00bf" stroke-width="1.20"/>
<path d="M104.0,201.0l-2.5,32.6l-1,11.4l-1.1,9.9l-1.2,9.9l-1.3,9.4l-1.1,7.5l-2.2,12.6l-0.7,4.5l-0.6,5.1l-0.3,4.6l-0.1,4.1l0.2,4l0.4,3.6l0.7,3.4l0.9,3.3l1.1,2.7l0.8,1.7l0.7,1.2l1.7,2.3l0.9,1l1.3,1.4l2.5,2.1l1.6,1.1l1.7,1.1l3.5,1.9l4.2,1.8l4.3,1.7l5.4,1.6l5.4,1.5l4,0.9l3.9,0.8l9,1.5l7.5,1.1l18,2.2l10.9,1.5l10.9,1.6l9.8,1.6l9.4,1.7l9.3,1.9l8.8,2l8.3,2.1" stroke="#bfbf00" stroke-width="1.20"/>
<path d="M89.4,201.0l-1.1,8.5l-1.3,8.5l-1.4,8.4l-1.6,8.8l-1.8,8.8l-2,8.8l-2.1,8.7l-2.3,8.7l-2.4,8.8l-2.4,8.2l-1.7,5.3l-1.5,4.3l-1.8,4.2l-1.7,3.6l-2,3.4l-2.3,3.3l-2.7,3.1l-1.4,1.5l-1.5,1.4l-1.3,0.9l-1.2,0.8l-1.3,0.5l-0.9,0.2l-0.8,0.1l-1.4,-0.2l-0.9,-0.3l-1.2,-0.7l-1.2,-0.8l-1.2,-0.9l-1,-1.1l-0.9,-1.1l-0.9,-1.3l-1,-1.8l-0.9,-1.9l-0.8,-2l-1.3,-4.1l-1.3,-5.6l-0.9,-5.4l-0.7,-5.7l-0.3,-5.8l0,-6.2" stroke="#000000" stroke-width="1.20"/>
<path d="M75.3,201.0l-1.3,8.6l-1.8,8.9l-2.2,9.2l-2.9,10.5l-4,12.9l-5.3,16.5l-1.6,4.9l-1.4,3.8l-1.4,3.3l-1.5,3.2l-1.4,2.6l-1.8,3l-1.8,2.3l-1.9,2.2l-2.1,2.1l-2,1.5l-1.2,0.7l-0.8,0.1l-0.4,0l-0.4,0l-0.8,-0.4l-1.1,-0.9l-0.6,-0.8l-0.6,-1l-0.9,-2.2l-0.5,-2.2l-0.2,-1.5l-0.1,-2l0.2,-5.8l0,-2l-0.2,-2l-0.3,-1.6" stroke="#0000ff" stroke-width="1.20"/>
<path d="M62.9,201.0l-1.6,8.1l-1.7,7.9l-1.9,7.8l-2.3,8.1l-2.3,7.6l-2.7,8.1l-3,8.1l-3.2,8.1l-3,7.3l-1.9,4.3l-1.4,2.6l-0.8,1.1l-0.9,1l-1,0.7l-0.7,0.4l-0.3,0.1l-0.4,0l-0.3,-0.3l-0.2,-0.5l-0.1,-0.9l-0.1,-1.4l0.2,-3.2l0.4,-5.3l-0.7,4.2" stroke="#008000" stroke-width="1.20"/>
<path d="M52.7,201.0l-5.7,23.1l-4.8,18.6l-4.6,16.6l-4.6,15.6" stroke="#ff0000" stroke-width="1.20"/>
<path d="M43.8,201.0l-4.6,27.9l-2.6,16.4l-2,15.5l-1.6,14.1" stroke="#00bfbf" stroke-width="1.20"/>
<path d="M37.5,201.0l-1.5,19.6l-1.2,18.6l-1,18.1l-0.8,17.6" stroke="#bf00bf" stroke-width="1.20"/>
<path d="M33.88,201.00C33.74,215.34 33.61,230.88 33.45,244.03C33.32,255.16 33.16,264.58 33.02,274.86" stroke="#bfbf00" stroke-width="1.20"/>
<path d="M33.00,197.20L33.02,274.86" stroke="#000000" stroke-width="1.20"/>
</g>
<path d="M76.76,227.53L68.92,252.87" stroke="#222" stroke-width="1.00" fill="none"/>
<path d="M67.44,257.65L67.40,251.36L71.03,252.48Z" fill="#1a1a1a"/>
<path d="M108.32,230.40L112.20,257.72" stroke="#222" stroke-width="1.00" fill="none"/>
<path d="M112.91,262.67L110.18,257.00L113.94,256.46Z" fill="#1a1a1a"/>
<path d="M180.75,230.11L187.53,256.40" stroke="#222" stroke-width="1.00" fill="none"/>
<path d="M188.78,261.24L185.44,255.90L189.12,254.95Z" fill="#1a1a1a"/>
<circle cx="32.80" cy="274.80" r="2.35" fill="#ff0000" stroke="#500000" stroke-width="0.50"/>
<rect x="27.60" y="201.40" width="216.90" height="167.50" fill="none" stroke="#333" stroke-width="1"/>
<path d="M33.00,368.90v-5.8M33.00,201.40v5.8M84.50,368.90v-5.8M84.50,201.40v5.8M136.00,368.90v-5.8M136.00,201.40v5.8M187.50,368.90v-5.8M187.50,201.40v5.8M239.00,368.90v-5.8M239.00,201.40v5.8M27.60,368.90h5.8M244.50,368.90h-5.8M27.60,338.24h5.8M244.50,338.24h-5.8M27.60,307.58h5.8M244.50,307.58h-5.8M27.60,276.92h5.8M244.50,276.92h-5.8M27.60,246.26h5.8M244.50,246.26h-5.8M27.60,215.60h5.8M244.50,215.60h-5.8" stroke="#2a2a2a" stroke-width="1.05" fill="none"/>
<text x="33.00" y="379.10" font-size="8.4" text-anchor="middle">−1.0</text>
<text x="84.50" y="379.10" font-size="8.4" text-anchor="middle">−0.5</text>
<text x="136.00" y="379.10" font-size="8.4" text-anchor="middle">0.0</text>
<text x="187.50" y="379.10" font-size="8.4" text-anchor="middle">0.5</text>
<text x="239.00" y="379.10" font-size="8.4" text-anchor="middle">1.0</text>
<text x="24.20" y="372.00" font-size="8.4" text-anchor="end">0</text>
<text x="24.20" y="341.34" font-size="8.4" text-anchor="end">10</text>
<text x="24.20" y="310.68" font-size="8.4" text-anchor="end">20</text>
<text x="24.20" y="280.02" font-size="8.4" text-anchor="end">30</text>
<text x="24.20" y="249.36" font-size="8.4" text-anchor="end">40</text>
<text x="24.20" y="218.70" font-size="8.4" text-anchor="end">50</text>
<text x="136.05" y="389.40" font-size="6.9" text-anchor="middle" style="fill:#3a3a3a;stroke:#3a3a3a;stroke-width:0.12px">cosξ</text>
<text transform="translate(7.40,285.15) rotate(-90)" font-size="7.9" text-anchor="middle" letter-spacing="0.55" style="fill:#3a3a3a;stroke:#3a3a3a;stroke-width:0.12px">J/I<tspan font-size="5.4" dy="2">1</tspan><tspan dy="-2">ω</tspan><tspan font-size="5.4" dy="2">T</tspan></text>
<text x="44.92" y="282.03" font-size="11.20" text-anchor="middle">A</text>
<text x="35.89" y="217.92" font-size="11.40" text-anchor="start">shape 7</text>
<text x="36.89" y="357.14" font-size="11.40" text-anchor="start">ψ=30<tspan font-size="8" dy="-4">o</tspan></text>
</g>
<g id="panel11">
<g clip-path="url(#cp11)" fill="none" stroke-linecap="round" stroke-linejoin="round" stroke-opacity="0.88">
<path d="M495.69,201.00L495.90,368.90" stroke="#0000ff" stroke-width="1.20"/>
<path d="M494.26,201.00C494.59,229.01 494.98,257.05 495.26,285.04C495.53,313.01 495.69,340.95 495.90,368.90" stroke="#008000" stroke-width="1.20"/>
<path d="M491.0,201.0l1,12l0.8,12.5l0.7,13.5l0.5,14.1l0.3,12.5l0.2,13.5l0.6,60.7l0.3,15.1l0.5,14" stroke="#ff0000" stroke-width="1.20"/>
<path d="M484.8,201.0l1.2,7.5l1.2,7.9l1,8l1,8.5l0.9,8.5l0.8,8.5l0.7,9l0.7,9.5l1.1,18.1l0.8,20.1l0.6,20.6l1.1,41.7" stroke="#00bfbf" stroke-width="1.20"/>
<path d="M476.2,201.0l2.3,11.3l2.1,10.9l2,10.9l1.9,10.9l1.7,10.9l1.6,10.4l1.5,11l1.3,10.4l1.1,10.5l1,10l0.9,10.5l0.7,10l0.6,10l0.5,10.1l0.3,10l0.2,10.1" stroke="#bf00bf" stroke-width="1.20"/>
<path d="M466.1,201.0l2.5,12.8l3,13.8l3,13.2l7.3,30.8l3.3,14.7l2.8,13.3l2.2,11.8l1.4,7.9l1.2,8l0.9,7.4l0.8,7l0.6,7l0.4,7.1l0.3,6.5l0.1,6.6" stroke="#bfbf00" stroke-width="1.20"/>
<path d="M453.7,201.0l1.4,8.4l1.8,8.9l2.2,9.3l2.7,10.1l2.6,8.7l3,9.6l10.9,32.4l4,12.4l3.7,12l3,11.1l1.5,6.3l1.2,5.8l1.2,5.9l0.9,5.5l0.7,5.4l0.7,5.5l0.4,5.5l0.3,5.1" stroke="#000000" stroke-width="1.20"/>
<path d="M439.6,201.0l0.9,6l1.1,6.5l1.2,5.9l1.4,6.4l1.6,6.4l1.9,6.7l2,6.8l2.1,6.6l2.5,7.1l2.8,7.6l3.1,7.9l3.2,7.9l3.4,7.9l3.8,8.7l12.6,27.4l2.7,6.4l2.4,6.1l1.6,4.2l1.2,3.8l1.2,3.8l0.9,3.4l0.9,3.9l0.7,3.5l0.6,3.5l0.5,3.5" stroke="#0000ff" stroke-width="1.20"/>
<path d="M424.8,201.0l1.4,10.5l1.6,10l2.1,10.4l2.3,9.8l2.7,9.6l3,9.6l3.4,9.4l3.5,8.9l3.1,6.8l3,6.3l3.2,6.3l3.4,6.1l3.3,5.7l3.7,5.9l14.9,22.8l3.2,5l2.9,4.8l3,5.2l2.9,5.3l2.4,4.9l2.1,4.6" stroke="#008000" stroke-width="1.20"/>
<path d="M409.1,201.0l2.5,21.6l2.1,14.5l1,6.6l1.2,6.5l1.1,6l1.4,6l1.4,5.9l1.6,5.8l1.6,5.3l1.8,5.3l1.9,5.1l1.9,4.6l2,4.6l2.3,4.4l2.1,3.9l2.2,3.9l2.4,3.7l2.3,3.2l2.4,3.2l2.5,3.1l3,3.4l3,3.3l5.8,5.7l7.1,6.5l6.6,5.7l16.5,14l7.1,6.1" stroke="#ff0000" stroke-width="1.20"/>
<path d="M393.0,201.0l0.5,5.9l0.4,7l1.2,27.1l0.8,12.1l0.5,6.6l0.7,6l0.7,5.5l0.9,5.5l1.1,5.9l1.4,5.9l1.6,5.8l1.7,5.3l1.9,5.2l2.2,5l2.3,4.5l2.5,4.3l2.4,3.8l2.3,3.1l2.6,3l2.7,2.9l2.5,2.3l3,2.5l3.2,2.3l3.8,2.4l2.6,1.6l3.1,1.7l6.4,3.1l7.1,3.2l15.6,6.5l8.3,3.6l9,4.2l7.9,4.1" stroke="#00bfbf" stroke-width="1.20"/>
<path d="M376.8,201.0l-0.3,14.7l-0.4,37.2l-0.7,28.7l0.1,7.7l0.3,7.2l0.5,5.2l0.7,5.1l0.8,4.5l1.1,4.5l1.3,3.8l1.5,3.6l1.7,3.4l2.1,3.2l1.1,1.5l1.6,1.8l2.9,3.1l3.3,2.8l1.9,1.5l2,1.4l4.2,2.6l4.9,2.5l5.1,2.3l5.3,2l4.4,1.5l4.5,1.3l4.5,1.2l5,1.2l5,1.1l5.9,1.1l21.1,3.7l9.2,1.7l4.9,1.1l4.8,1.2l4.4,1.2l4.4,1.3" stroke="#bf00bf" stroke-width="1.20"/>
<path d="M361.0,201.0l-0.6,9.1l-0.7,9l-1,9.5l-1.3,9.4l-1.5,10.4l-1.7,10.9l-2.1,11.9l-2.7,14.4l-1.4,6.9l-1.2,5.5l-1.2,4.9l-1.4,4.8l-1.4,4.3l-1.6,4.2l-1.6,3.6l-1.9,3.6l-1.2,2.1l-1.4,2.2l-1.4,2l-1.6,2l-1.6,1.9l-1.4,1.4l-1.4,1.4l-1.6,1.2l-1.6,1.2l-1.6,1.1l-1.8,0.9l-1.8,0.9l-1.9,0.7l-2,0.6l-2,0.4l-2.1,0.3l-2.6,0.2l-2.7,0l-2.6,-0.1l-2.5,-0.4l-2.5,-0.5l-2.4,-0.7l-2.2,-0.9l-1.5,-0.9l-1.4,-1.1l-0.8,-1l-0.6,-1.2l-0.4,-1.4l-0.2,-1.5l0,-1.6l0.3,-1.8l0.5,-1.9" stroke="#bfbf00" stroke-width="1.20"/>
<path d="M346.4,201.0l-1.7,10.9l-2.1,11.4l-2.4,11.3l-2.9,11.7l-1.8,6.3l-1.9,6.8l-4.2,13.5l-1.8,5.3l-1.7,4.8l-1.6,4.2l-1.6,3.7l-1.4,3.2l-1.6,3.1l-1.7,3l-1.6,2.6l-1.9,2.9l-1.7,2.4l-2.2,2.8l-1.9,2.2l-2.3,2.6l-2.1,2.2l-2.2,2l-2.3,2l-2.4,1.9l-2.5,1.8l-2.5,1.7l-2.7,1.6" stroke="#000000" stroke-width="1.20"/>
<path d="M332.3,201.0l-0.6,4.5l-0.8,5l-0.9,4.5l-1.1,4.9l-1.2,4.8l-1.3,4.9l-1.4,4.8l-1.7,5.2l-2,5.7l-2.2,6.2l-2.6,6.5l-2.7,6.5l-6,13.8l-10.2,22.4l-1.8,4.2l-1.5,3.7l-1.7,5.1l-0.9,2.9l-0.6,2.4l-0.5,2.4l-0.4,2.5l-0.3,2.5l-0.2,2.5" stroke="#0000ff" stroke-width="1.20"/>
<path d="M319.9,201.0l-1.1,6.5l-1.3,6.9l-1.8,7.3l-2,7.3l-2,6.7l-2.5,7.7l-8.2,23.2l-2.9,8.6l-2.8,9.1l-2.1,8.2l-1,4.9l-0.9,4.9l-0.7,4.4l-0.5,4.5l-0.4,4.5l-0.1,4.5l0,4.6l0.1,4.1" stroke="#008000" stroke-width="1.20"/>
<path d="M309.7,201.0l-1.6,7.9l-1.9,8.3l-6.9,30l-2.7,11.8l-2.4,11.8l-1.9,10.9l-0.9,6.5l-0.8,6.4l-0.6,6l-0.4,6l-0.2,5.6l-0.1,5.5l0.1,5.6l0.3,5.6" stroke="#ff0000" stroke-width="1.20"/>
<path d="M300.8,201.0l-3.2,21.4l-2.4,17.9l-1.9,16.4l-1.5,15.5l-1.2,15l-0.7,14.6l-0.3,13.5l0,7.1l0.1,6.5" stroke="#00bfbf" stroke-width="1.20"/>
<path d="M294.5,201.0l-2.3,41.3l-0.8,16.6l-0.6,15.1l-0.5,14.6l-0.3,14.1l-0.2,13.1l-0.1,13.1" stroke="#bf00bf" stroke-width="1.20"/>
<path d="M290.88,201.00C290.69,229.01 290.54,261.55 290.31,285.04C290.14,302.02 289.92,314.28 289.73,328.89" stroke="#bfbf00" stroke-width="1.20"/>
<path d="M289.90,197.20L289.73,328.89" stroke="#000000" stroke-width="1.20"/>
</g>
<path d="M345.24,238.58L336.82,269.04" stroke="#222" stroke-width="1.00" fill="none"/>
<path d="M335.48,273.86L335.25,267.57L338.91,268.58Z" fill="#1a1a1a"/>
<path d="M386.26,238.58L390.75,272.06" stroke="#222" stroke-width="1.00" fill="none"/>
<path d="M391.42,277.01L388.74,271.32L392.50,270.81Z" fill="#1a1a1a"/>
<path d="M453.24,237.29L463.80,267.98" stroke="#222" stroke-width="1.00" fill="none"/>
<path d="M465.43,272.71L461.68,267.66L465.27,266.42Z" fill="#1a1a1a"/>
<circle cx="289.30" cy="328.89" r="2.35" fill="#ff0000" stroke="#500000" stroke-width="0.50"/>
<rect x="284.50" y="201.40" width="216.45" height="167.50" fill="none" stroke="#333" stroke-width="1"/>
<path d="M289.90,368.90v-5.8M289.90,201.40v5.8M341.40,368.90v-5.8M341.40,201.40v5.8M392.90,368.90v-5.8M392.90,201.40v5.8M444.40,368.90v-5.8M444.40,201.40v5.8M495.90,368.90v-5.8M495.90,201.40v5.8M284.50,368.90h5.8M500.95,368.90h-5.8M284.50,338.24h5.8M500.95,338.24h-5.8M284.50,307.58h5.8M500.95,307.58h-5.8M284.50,276.92h5.8M500.95,276.92h-5.8M284.50,246.26h5.8M500.95,246.26h-5.8M284.50,215.60h5.8M500.95,215.60h-5.8" stroke="#2a2a2a" stroke-width="1.05" fill="none"/>
<text x="289.90" y="379.10" font-size="8.4" text-anchor="middle">−1.0</text>
<text x="341.40" y="379.10" font-size="8.4" text-anchor="middle">−0.5</text>
<text x="392.90" y="379.10" font-size="8.4" text-anchor="middle">0.0</text>
<text x="444.40" y="379.10" font-size="8.4" text-anchor="middle">0.5</text>
<text x="495.90" y="379.10" font-size="8.4" text-anchor="middle">1.0</text>
<text x="281.10" y="372.00" font-size="8.4" text-anchor="end">0</text>
<text x="281.10" y="341.34" font-size="8.4" text-anchor="end">10</text>
<text x="281.10" y="310.68" font-size="8.4" text-anchor="end">20</text>
<text x="281.10" y="280.02" font-size="8.4" text-anchor="end">30</text>
<text x="281.10" y="249.36" font-size="8.4" text-anchor="end">40</text>
<text x="281.10" y="218.70" font-size="8.4" text-anchor="end">50</text>
<text x="392.73" y="389.40" font-size="6.9" text-anchor="middle" style="fill:#3a3a3a;stroke:#3a3a3a;stroke-width:0.12px">cosξ</text>
<text transform="translate(264.30,285.15) rotate(-90)" font-size="7.9" text-anchor="middle" letter-spacing="0.55" style="fill:#3a3a3a;stroke:#3a3a3a;stroke-width:0.12px">J/I<tspan font-size="5.4" dy="2">1</tspan><tspan dy="-2">ω</tspan><tspan font-size="5.4" dy="2">T</tspan></text>
<text x="303.07" y="332.05" font-size="11.20" text-anchor="middle">A</text>
<text x="293.18" y="218.64" font-size="11.40" text-anchor="start">shape 7</text>
<text x="293.18" y="357.86" font-size="11.40" text-anchor="start">ψ=60<tspan font-size="8" dy="-4">o</tspan></text>
</g>
<g id="panel12">
<g clip-path="url(#cp12)" fill="none" stroke-linecap="round" stroke-linejoin="round" stroke-opacity="0.88">
<path d="M752.26,201.00L752.55,367.18" stroke="#0000ff" stroke-width="1.20"/>
<path d="M750.83,201.00C751.16,229.01 751.57,257.19 751.83,285.04C752.09,312.58 752.22,339.80 752.41,367.18" stroke="#008000" stroke-width="1.20"/>
<path d="M747.7,201.0l1.1,15l0.9,15.6l0.8,16l0.6,17.6l0.4,16.6l0.3,18.6l0.6,66.8" stroke="#ff0000" stroke-width="1.20"/>
<path d="M741.5,201.0l1.4,9.4l1.4,10l1.3,10l1.1,9.9l1.1,10l0.9,10.5l0.8,10l0.8,10.5l0.6,10.6l0.5,10.5l0.4,10.5l0.3,10.6l0.2,10.5l0.1,11.1l0,11l-0.1,11.1" stroke="#00bfbf" stroke-width="1.20"/>
<path d="M733.2,201.0l6.1,32.6l4.1,23.3l1.7,10.9l1.5,9.9l1.3,9.5l1.2,9.4l1,9.5l0.8,9.5l0.7,9l0.4,8.6l0.3,8.5l0.1,8.6l0,8.5l-0.3,8.1" stroke="#bf00bf" stroke-width="1.20"/>
<path d="M722.6,201.0l0.9,6l1.1,5.9l1.3,6.4l1.4,6.4l3.6,15.2l8.7,33l3.5,14.1l1.7,7.9l1.6,7.3l1.3,7l1.1,6.9l0.8,6l0.7,5.5l0.6,5.5l0.4,5.5l0.4,6.1l0.3,5.5l0.1,5.6l0,5.5l-0.1,1.5l-0.2,1.4l-0.3,0.8l-0.4,0.6l-0.6,0.6l-0.9,0.4l-1,0.1l-0.6,0.1" stroke="#bfbf00" stroke-width="1.20"/>
<path d="M710.4,201.0l2.8,14.3l3.1,13.7l3.4,13.6l3.7,13l2.9,9.6l3,9l3.6,10l6.5,17l2.6,7.1l2.5,7.6l2,6.6l1.6,6.7l1.4,7.8l1.7,11.7l0.8,6.4l0.4,3.2l0,2l-0.1,1.4l-0.4,1.8l-0.4,1.1l-0.7,1.1l-0.9,0.8l-1.1,0.7l-1.8,0.6l-1.4,0.3l-2.1,0.3l-1.7,0.1l-2.2,-0.1l-2.1,-0.2l-2.1,-0.2l-6,-1.1l-2.7,-0.2l-1.6,0l-1.7,0.2l-3.4,0.7" stroke="#000000" stroke-width="1.20"/>
<path d="M696.3,201.0l2.1,11.3l1.9,9.9l2,9.3l1.9,8.3l2,7.8l2.2,7.8l2.2,7.2l2.4,7.1l2,5.7l2.2,5.6l2.4,5.5l2.5,5.5l5.1,10.3l12.4,24.1l3.3,6.7l2.5,5.5l2.1,5.1l1.4,4.3l1.2,4.4l0.8,4.2l0.2,2.1l0.1,2l-0.2,1.9l-0.3,1.3l-0.6,1.1l-0.8,0.9l-1,0.7l-1.2,0.6l-0.9,0.2l-1.5,0.3l-1.6,0.2l-1.7,0.1l-2.8,-0.1l-6.5,-0.4l-3.5,-0.1l-3.8,0l-4.8,0.2" stroke="#0000ff" stroke-width="1.20"/>
<path d="M681.7,201.0l3.6,22.3l2,11.9l2.1,11.4l2.2,9.8l2.4,9.8l2.6,9.1l2.9,8.6l1.5,4.3l1.7,4.2l3,6.9l3.3,6.7l3.7,6.6l3.7,6l2.2,3.3l2.1,2.8l2.1,2.8l2.2,2.7l3.7,4.1l8.3,8.7l2,2.3l1.6,2l2,3l1.6,2.7l1.3,3l0.7,2.5l0.3,1.4l0,1.5l-0.2,1.4l-0.2,0.8l-0.4,0.8l-0.9,0.9l-1.1,0.8l-1.3,0.5l-1.4,0.4l-1.6,0.3l-3.8,0.3l-5.7,0.1l-9.9,-0.1" stroke="#008000" stroke-width="1.20"/>
<path d="M665.8,201.0l1.2,15.1l1.6,14.5l1.8,14.3l2.2,14.8l2.7,15.8l3,15.5l1.1,5l1.2,4.9l1.2,4.4l1.3,4.4l1.7,4.7l1.7,4.2l1.8,4l1.9,3.4l2,3.4l2.2,3.2l2.5,3.1l2.7,2.9l2.1,2.1l2.7,2.3l2.4,1.9l2.9,2.1l3.5,2.2l4.1,2.4l3.7,1.9l6.1,2.8l2.6,1.4l1.6,1.1l1.1,0.8l1.3,1.4l0.8,1.1l0.5,0.9l0.3,0.8l0.1,0.9l-0.1,0.3l-0.1,0.4l-0.5,0.7l-0.7,0.6l-0.9,0.4l-1.5,0.4l-1.6,0.2l-2.4,0l-5.6,-0.3l-1.3,0l-0.7,0.2" stroke="#ff0000" stroke-width="1.20"/>
<path d="M649.3,201.0l0.2,22.1l0.3,10.5l0.3,10l0.4,10l0.6,9.5l0.6,9.5l0.8,9.5l0.8,9.1l0.9,8.5l0.6,5.5l0.8,5l0.8,4.4l1.1,4.4l1.2,3.8l1.2,3.3l1.5,3.2l1.7,3l1.9,3l1.7,2.4l2.3,2.7l2.1,2.1l2.3,2l2.8,2.1l2.5,1.6l3.1,1.8l3.7,1.7l3.7,1.7l6.2,2.4l24.7,8.9l2.9,1.2l0.9,0.5l0.4,0.4l0,0.3l-0.3,0.3l-0.7,0.2l-1.1,0.2l-2.2,-0.2" stroke="#00bfbf" stroke-width="1.20"/>
<path d="M633.5,201.0l-0.5,17l-0.7,15.5l-0.9,14.1l-1.1,13.5l-1.5,14.5l-1.8,13.9l-1.6,10.4l-4.1,23.6l-1,6.5l-0.7,5.6l-0.5,5.6l-0.1,3l0.1,1.5l0.2,1.4l0.4,1.4l0.4,0.8l1,1.7l0.6,0.7l1.1,1l0.8,0.6l1.3,0.8l2.3,1.1l3.4,1.2l6.4,1.8l5.8,1.4l5.3,1.1l7.4,1.1l8.5,1l7.5,0.6l22.1,1.6l26.4,2.6" stroke="#bf00bf" stroke-width="1.20"/>
<path d="M617.7,201.0l-0.7,9.9l-0.8,8.4l-0.8,8l-0.9,7.5l-1,7l-1.1,7l-1.2,6.5l-1.3,6.4l-1.4,6.4l-1.5,5.9l-1.6,5.8l-1.8,5.7l-2,5.7l-2,5.2l-2.1,5.1l-2.3,5l-2.5,4.9l-2.4,4.4l-2.3,3.9l-2.4,3.8l-2.7,3.6l-2.5,3l-2.7,2.9l-2.8,2.8l-3,2.5l-2.8,2.1l-2.9,1.9l-3.6,1.9l-3.7,1.7l-3.8,1.5l-3.9,1.3l-4.5,1.3" stroke="#bfbf00" stroke-width="1.20"/>
<path d="M603.0,201.0l-2.5,14.7l-1.8,10.4l-1.9,9.5l-1.9,8.9l-2,8.3l-2.2,7.8l-2.4,7.7l-2.5,7.1l-2.6,6.6l-2.9,6.4l-2.9,5.8l-3.2,5.7l-2.7,4.3l-2.8,4.2l-9.9,13.4l-3.4,5l-3,4.6l-2.2,3.8l-1,2.2l-0.8,1.8l-0.7,1.8l-0.5,1.9l-0.3,1.9l-0.2,1.5l-0.1,2.1l0.1,1.6" stroke="#000000" stroke-width="1.20"/>
<path d="M589.0,201.0l-0.6,5.1l-0.7,5l-0.9,4.9l-1.1,4.9l-1.1,4.9l-1.4,5.4l-1.5,5.3l-1.9,5.7l-3.4,10l-4.1,10.8l-4.3,10.8l-9.4,22.8l-3.1,7.9l-2.9,8.1l-2.2,7.1l-1.1,4.3l-0.9,3.9l-0.7,3.9l-0.5,3.5l-0.4,4l-0.2,3.5l0,3.6l0.1,3.6" stroke="#0000ff" stroke-width="1.20"/>
<path d="M576.6,201.0l-1.1,5.4l-1.1,5.4l-1.4,5.8l-1.6,6.4l-3.8,13.5l-8.1,27.6l-3.3,11.6l-3.3,12.6l-1.3,5.8l-1.2,5.4l-1.2,6.9l-1,6.4l-0.9,6.4l-0.5,6l-0.4,6l-0.1,6.1l0.1,6.1l0.3,5.6" stroke="#008000" stroke-width="1.20"/>
<path d="M566.5,201.0l-8.1,37.3l-3.7,17.8l-1.8,9.4l-1.5,8.4l-1.2,7.9l-1.2,7.9l-1,8l-0.8,8l-0.6,8l-0.4,7.5l-0.1,7.5l0,7.1l0.2,7.1l0.4,7.1" stroke="#ff0000" stroke-width="1.20"/>
<path d="M557.5,201.0l-3.1,23.9l-2.5,20.9l-2,19.5l-1.4,18l-1.1,17.5l-0.4,8.5l-0.3,8.5l-0.1,8.6l-0.1,8l0.1,8l0.1,7.6" stroke="#00bfbf" stroke-width="1.20"/>
<path d="M551.3,201.0l-1.3,25.6l-1,21l-0.8,19.1l-0.6,18l-0.4,17.6l-0.3,16.6l-0.2,16l0,15.1" stroke="#bf00bf" stroke-width="1.20"/>
<path d="M547.74,201.00C547.55,229.01 547.34,258.83 547.17,285.04C547.01,308.08 546.88,328.33 546.74,349.97" stroke="#bfbf00" stroke-width="1.20"/>
<path d="M547.02,201.00L546.74,349.97" stroke="#000000" stroke-width="1.20"/>
</g>
<path d="M587.18,235.13L580.29,260.99" stroke="#222" stroke-width="1.00" fill="none"/>
<path d="M579.01,265.83L578.71,259.54L582.39,260.52Z" fill="#1a1a1a"/>
<path d="M640.68,235.42L641.54,265.56" stroke="#222" stroke-width="1.00" fill="none"/>
<path d="M641.68,270.56L639.61,264.62L643.41,264.51Z" fill="#1a1a1a"/>
<path d="M709.67,235.71L719.72,263.42" stroke="#222" stroke-width="1.00" fill="none"/>
<path d="M721.43,268.12L717.60,263.13L721.17,261.83Z" fill="#1a1a1a"/>
<circle cx="546.45" cy="349.97" r="2.35" fill="#ff0000" stroke="#500000" stroke-width="0.50"/>
<circle cx="720.00" cy="367.60" r="1.00" fill="#111" stroke="#111" stroke-width="1.00"/>
<rect x="540.95" y="201.40" width="216.55" height="167.50" fill="none" stroke="#333" stroke-width="1"/>
<path d="M546.50,368.90v-5.8M546.50,201.40v5.8M598.00,368.90v-5.8M598.00,201.40v5.8M649.50,368.90v-5.8M649.50,201.40v5.8M701.00,368.90v-5.8M701.00,201.40v5.8M752.50,368.90v-5.8M752.50,201.40v5.8M540.95,368.90h5.8M757.50,368.90h-5.8M540.95,338.24h5.8M757.50,338.24h-5.8M540.95,307.58h5.8M757.50,307.58h-5.8M540.95,276.92h5.8M757.50,276.92h-5.8M540.95,246.26h5.8M757.50,246.26h-5.8M540.95,215.60h5.8M757.50,215.60h-5.8" stroke="#2a2a2a" stroke-width="1.05" fill="none"/>
<text x="546.50" y="379.10" font-size="8.4" text-anchor="middle">−1.0</text>
<text x="598.00" y="379.10" font-size="8.4" text-anchor="middle">−0.5</text>
<text x="649.50" y="379.10" font-size="8.4" text-anchor="middle">0.0</text>
<text x="701.00" y="379.10" font-size="8.4" text-anchor="middle">0.5</text>
<text x="752.50" y="379.10" font-size="8.4" text-anchor="middle">1.0</text>
<text x="537.55" y="372.00" font-size="8.4" text-anchor="end">0</text>
<text x="537.55" y="341.34" font-size="8.4" text-anchor="end">10</text>
<text x="537.55" y="310.68" font-size="8.4" text-anchor="end">20</text>
<text x="537.55" y="280.02" font-size="8.4" text-anchor="end">30</text>
<text x="537.55" y="249.36" font-size="8.4" text-anchor="end">40</text>
<text x="537.55" y="218.70" font-size="8.4" text-anchor="end">50</text>
<text x="649.23" y="389.40" font-size="6.9" text-anchor="middle" style="fill:#3a3a3a;stroke:#3a3a3a;stroke-width:0.12px">cosξ</text>
<text transform="translate(520.75,285.15) rotate(-90)" font-size="7.9" text-anchor="middle" letter-spacing="0.55" style="fill:#3a3a3a;stroke:#3a3a3a;stroke-width:0.12px">J/I<tspan font-size="5.4" dy="2">1</tspan><tspan dy="-2">ω</tspan><tspan font-size="5.4" dy="2">T</tspan></text>
<text x="557.21" y="355.71" font-size="11.20" text-anchor="middle">A</text>
<text x="549.61" y="218.21" font-size="11.40" text-anchor="start">shape 7</text>
<text x="575.85" y="357.86" font-size="11.40" text-anchor="start">ψ=80<tspan font-size="8" dy="-4">o</tspan></text>
</g>
<g id="panel20">
<g clip-path="url(#cp20)" fill="none" stroke-linecap="round" stroke-linejoin="round" stroke-opacity="0.88">
<path d="M238.69,401.00L238.98,532.48" stroke="#0000ff" stroke-width="1.20"/>
<path d="M237.26,401.00C237.73,420.12 238.40,438.02 238.69,458.37C239.02,481.49 238.88,507.77 238.98,532.48" stroke="#008000" stroke-width="1.20"/>
<path d="M234.0,401.0l1.3,12.5l1.1,13.5l0.9,14.1l0.7,14.5l0.5,15.1l0.3,16.6l0.1,18l0.1,27.2" stroke="#ff0000" stroke-width="1.20"/>
<path d="M227.8,401.0l3.3,19.3l1.4,9l1.3,8.9l1.2,8.5l1,8.5l0.9,8.5l0.7,8l0.6,8l0.5,8l0.4,7.5l0.2,7.6l0.1,7.5l0,7.6l-0.1,7.5l-0.3,7.1" stroke="#00bfbf" stroke-width="1.20"/>
<path d="M219.2,401.0l2.8,12.8l6.7,28.4l2.6,11.8l2.9,14.4l1.1,6.4l1.1,6.4l1,7l0.8,7l0.5,6.5l0.5,6.5l0.2,6.5l0,6.1l-0.1,6.1l-0.3,5.6" stroke="#bf00bf" stroke-width="1.20"/>
<path d="M209.1,401.0l1.1,6l1.2,5.9l1.6,6.3l1.8,6.8l1.8,6.3l2.1,6.8l8,24.4l3,9.6l2.9,10.2l2.3,9.2l1.2,5.4l1,5.4l0.7,4.9l0.6,5l0.4,5l0.3,4.6l0,5.1l-0.1,4.6" stroke="#bfbf00" stroke-width="1.20"/>
<path d="M196.7,401.0l0.7,4.5l1,5l1,4.4l1.2,4.9l1.4,4.9l1.4,4.8l1.6,4.8l1.8,5.2l3.6,9.4l4.4,10.6l4.7,10.6l8.7,19.3l2.6,6l2.4,6.1l1.8,5.2l1,3.3l0.9,3.4l0.8,3.4l0.5,2.9l0.5,3.5l0.2,3.1l0.1,3.1l0,3.1" stroke="#000000" stroke-width="1.20"/>
<path d="M182.6,401.0l1.1,8l1.4,8l1.6,8l2,7.8l2.2,7.7l2.3,7.2l2.6,7.1l2.8,6.9l2.9,6.4l2.8,5.9l3.1,5.7l3.3,5.6l2.9,4.7l2.8,4.2l9.2,12.7l2.8,4.1l2.5,3.8l2,3.4l1.9,3.5l1.7,3.6l1.4,3.8l1.1,3.4" stroke="#0000ff" stroke-width="1.20"/>
<path d="M167.8,401.0l0.5,6.1l0.7,6l0.7,6l1,6.5l1,6.3l1.2,6.4l1.3,6.3l1.6,6.9l1.9,7.7l2.1,8.3l2.4,8.8l1.8,5.9l1.6,4.8l1.7,4.2l1.6,3.7l1.8,3.6l1.7,3l1.6,2.5l1.8,2.4l2.2,2.7l2.1,2.2l2.5,2.4l2.3,1.9l2.8,2.1l2.1,1.4l2.2,1.3l2.2,1.3l2.2,1.1l2.8,1.2l2.4,0.9l8.2,2.6l3.2,1.3l1.8,0.8l1.3,0.8l1.7,1.1l1.2,1" stroke="#008000" stroke-width="1.20"/>
<path d="M152.2,401.0l1.5,30.5l0.8,15.1l1.1,14.5l1.4,13.5l0.8,6.9l1,7l1,6.4l1.2,6.4l2.3,11.2l5.5,23.6l1.4,7l0.2,2l0,0.9l-0.1,0.9l-0.5,1.2l-0.7,1.2l-0.9,1l-1.2,1l-1.2,0.8l-1.4,0.6l-3,1.1l-5.5,1.3l-7.4,1.6l-9.4,1.7l-14.7,2.3l-13.9,2l-10.9,1.4l-10.5,1.2l-10,1l-9.5,0.7l-9.6,0.5l-9,0.3l-9,0.1l-9,-0.1" stroke="#ff0000" stroke-width="1.20"/>
<path d="M135.9,401.0l-0.4,8.6l-0.3,9l-0.4,32.4l-0.3,13.5l-0.4,7l-0.4,7l-0.5,6.6l-0.6,6l-1,7.6l-1.1,6.6l-1.1,5.5l-1.3,5.5l-1.5,4.8l-1.7,4.6l-2,4.5l-2.1,3.8l-1.3,2l-1.4,2l-2.8,3.3l-3.1,3l-1.8,1.6l-1.9,1.6l-4,2.8l-4.3,2.6l-5,2.5l-5.1,2.2l-4.9,1.7l-5.4,1.6l-5.5,1.4l-5.6,1.1l-5,0.8l-6.1,0.8l-18.3,2l-6.3,0.8" stroke="#00bfbf" stroke-width="1.20"/>
<path d="M119.8,401.0l-0.3,8.1l-0.5,8.1l-0.6,8l-0.9,7.9l-1,7.9l-1.1,7.9l-1.3,7.9l-1.6,8.3l-1.8,8.3l-2,8.9l-2.2,8.4l-1.9,6.9l-1.9,5.8l-2.1,5.6l-2.2,5.1l-2.2,4.5l-2.1,3.9l-2.2,3.4l-2.3,3.2l-2.7,3.5l-3,3.3l-3.2,3.2l-3.3,3l-3.9,3.2l-3.6,2.7l-3.8,2.6l-3.9,2.4l-4.3,2.6l-6.7,3.5l-12.6,5.8l-5.6,2.9" stroke="#bf00bf" stroke-width="1.20"/>
<path d="M104.0,401.0l-0.5,6.4l-0.7,6.4l-0.8,6.5l-0.8,5.9l-0.9,6l-1,5.9l-1.2,6l-1.3,5.9l-1.4,5.9l-1.3,5.4l-1.7,5.8l-1.6,5.3l-1.8,5.3l-1.8,5.2l-2,5.2l-1.9,4.7l-3.8,8.2l-2,4l-2.1,4l-4.2,7.4l-2.3,3.9l-2.2,3.3l-2.6,3.7l-2.6,3.7l-2.8,3.6l-3.1,3.9l-5.9,6.9l-12.2,13.8l-2.2,2.6l-1.1,1.6l-0.7,1.4l-0.4,1.4l-0.1,1.6" stroke="#bfbf00" stroke-width="1.20"/>
<path d="M89.4,401.0l-1.7,10.4l-1.7,9.4l-1.8,8.8l-2,8.9l-2,8.3l-2.2,8.2l-2.3,7.7l-2.4,7.7l-2.7,7.5l-2.9,7.5l-3.1,7.4l-3.2,6.9l-2.7,5.4l-2.8,5.3l-9.3,16.2l-3.1,5.7l-2.9,5.8l-2.2,5l-1.3,3.2l-1.1,3.3l-1,3.3l-0.7,2.9l-0.5,2.9l-0.4,3l-0.3,3l-0.1,3.1" stroke="#000000" stroke-width="1.20"/>
<path d="M75.3,401.0l-0.6,4.5l-0.8,5l-0.9,4.9l-1,4.9l-2.5,10.3l-3,11.1l-3,9.7l-3.6,10.9l-12.1,34.7l-4.2,12.4l-3.5,11l-2.5,9.2l-1.3,5.3l-1,4.9l-0.8,4.9l-0.7,4.9l-0.5,4.5l-0.3,4.5l-0.1,4.6l0.1,4.6" stroke="#0000ff" stroke-width="1.20"/>
<path d="M62.9,401.0l-2.5,11.7l-3.1,13.2l-3,12.2l-7.6,29.7l-3.5,14.6l-3.1,13.7l-2.5,12.8l-1.3,7.9l-1.1,7.9l-0.9,7.4l-0.7,7.5l-0.5,7.5l-0.3,7l0,7.1l0.2,6.6" stroke="#008000" stroke-width="1.20"/>
<path d="M52.7,401.0l-7,35l-3.8,20.3l-1.6,9.9l-1.5,9.4l-1.3,9l-1.1,8.4l-1,9.5l-0.8,9.5l-0.7,9.5l-0.5,9l-0.4,9.6l-0.2,9l0,9.6l0.2,9.1" stroke="#ff0000" stroke-width="1.20"/>
<path d="M43.8,401.0l-2.7,21.4l-2.4,21.5l-1.9,21l-1.5,21.1l-1.2,20.5l-0.7,20.6l-0.4,20.6l0,20.1" stroke="#00bfbf" stroke-width="1.20"/>
<path d="M37.5,401.0l-1,19.6l-0.8,19.6l-0.8,20.1l-0.6,20.6l-0.5,21.1l-0.4,21.1l-0.2,22.1l-0.2,22.6" stroke="#bf00bf" stroke-width="1.20"/>
<path d="M33.88,401.00C33.74,429.01 33.60,457.14 33.45,485.04C33.30,512.74 33.15,540.21 33.00,567.80" stroke="#bfbf00" stroke-width="1.20"/>
<path d="M33.00,396.89L33.00,567.80" stroke="#000000" stroke-width="1.20"/>
</g>
<path d="M102.81,455.25L91.07,488.23" stroke="#222" stroke-width="1.00" fill="none"/>
<path d="M89.39,492.94L89.61,486.65L93.19,487.92Z" fill="#1a1a1a"/>
<path d="M187.32,455.82L203.50,485.69" stroke="#222" stroke-width="1.00" fill="none"/>
<path d="M205.88,490.08L201.35,485.71L204.70,483.90Z" fill="#1a1a1a"/>
<circle cx="238.98" cy="532.48" r="1.80" fill="#a00020" stroke="#300010" stroke-width="1.10"/>
<rect x="27.60" y="400.75" width="216.90" height="167.25" fill="none" stroke="#333" stroke-width="1"/>
<path d="M33.00,568.00v-5.8M33.00,400.75v5.8M84.50,568.00v-5.8M84.50,400.75v5.8M136.00,568.00v-5.8M136.00,400.75v5.8M187.50,568.00v-5.8M187.50,400.75v5.8M239.00,568.00v-5.8M239.00,400.75v5.8M27.60,567.80h5.8M244.50,567.80h-5.8M27.60,537.28h5.8M244.50,537.28h-5.8M27.60,506.76h5.8M244.50,506.76h-5.8M27.60,476.24h5.8M244.50,476.24h-5.8M27.60,445.72h5.8M244.50,445.72h-5.8M27.60,415.20h5.8M244.50,415.20h-5.8" stroke="#2a2a2a" stroke-width="1.05" fill="none"/>
<text x="33.00" y="578.20" font-size="8.4" text-anchor="middle">−1.0</text>
<text x="84.50" y="578.20" font-size="8.4" text-anchor="middle">−0.5</text>
<text x="136.00" y="578.20" font-size="8.4" text-anchor="middle">0.0</text>
<text x="187.50" y="578.20" font-size="8.4" text-anchor="middle">0.5</text>
<text x="239.00" y="578.20" font-size="8.4" text-anchor="middle">1.0</text>
<text x="24.20" y="570.90" font-size="8.4" text-anchor="end">0</text>
<text x="24.20" y="540.38" font-size="8.4" text-anchor="end">10</text>
<text x="24.20" y="509.86" font-size="8.4" text-anchor="end">20</text>
<text x="24.20" y="479.34" font-size="8.4" text-anchor="end">30</text>
<text x="24.20" y="448.82" font-size="8.4" text-anchor="end">40</text>
<text x="24.20" y="418.30" font-size="8.4" text-anchor="end">50</text>
<text x="136.05" y="588.50" font-size="6.9" text-anchor="middle" style="fill:#3a3a3a;stroke:#3a3a3a;stroke-width:0.12px">cosξ</text>
<text transform="translate(7.40,484.38) rotate(-90)" font-size="7.9" text-anchor="middle" letter-spacing="0.55" style="fill:#3a3a3a;stroke:#3a3a3a;stroke-width:0.12px">J/I<tspan font-size="5.4" dy="2">1</tspan><tspan dy="-2">ω</tspan><tspan font-size="5.4" dy="2">T</tspan></text>
<text x="230.37" y="540.65" font-size="11.20" text-anchor="middle">A</text>
<text x="42.77" y="418.21" font-size="11.40" text-anchor="start">shape 2</text>
<text x="198.82" y="557.29" font-size="11.40" text-anchor="start">ψ=30<tspan font-size="8" dy="-4">o</tspan></text>
</g>
<g id="panel21">
<g clip-path="url(#cp21)" fill="none" stroke-linecap="round" stroke-linejoin="round" stroke-opacity="0.88">
<path d="M495.69,401.00L495.69,468.12" stroke="#0000ff" stroke-width="1.20"/>
<path d="M494.26,401.00C494.64,410.56 495.16,419.42 495.40,429.68C495.68,441.56 495.59,455.31 495.69,468.12" stroke="#008000" stroke-width="1.20"/>
<path d="M491.0,401.0l0.9,7.5l0.9,8.1l0.8,8l0.7,8.6l0.5,8.6l0.4,8.6l0.3,8.6l0.2,9.1" stroke="#ff0000" stroke-width="1.20"/>
<path d="M484.8,401.0l1.7,8.9l4.2,21.8l2.1,11.9l1,6.5l0.9,6.5l0.6,6l0.4,5.5" stroke="#00bfbf" stroke-width="1.20"/>
<path d="M476.2,401.0l1.8,8.4l2,8.4l2.2,8.3l2.3,8.3l2.5,8.3l2.8,8.7l2.8,8.1l3.1,8.6" stroke="#bf00bf" stroke-width="1.20"/>
<path d="M466.1,401.0l2,7.8l4.4,18.6l2.5,9.8l1.6,5.3l1.6,4.8l1.7,4.7l1.8,4.1l2.6,5.5l2.7,4.9l1.6,2.6l1.7,2.6l1.5,2l0.9,1l0.6,0.4l0.3,0.1l0.6,0l0.6,-0.5l0.5,-1l0.8,-2.4l0.3,-1.7l0,-0.8l0,-0.6l-0.1,-0.3l-0.2,-0.1l-0.4,0.3" stroke="#bfbf00" stroke-width="1.20"/>
<path d="M453.7,401.0l3.8,17.3l2.7,11.3l2.7,10.1l1.5,4.8l1.4,4.2l1.6,4.8l1.7,4.2l1.7,4.1l1.8,4.2l2,4.1l1.9,3.6l2.1,3.6l2.1,3.6l2.3,3.5l1.8,2.6l1.7,1.9l1.4,1.2l0.8,0.4l0.7,0.4l0.9,0.2l0.8,0.2l0.9,-0.1l0.9,-0.1l0.8,-0.4l0.4,-0.3l0.5,-0.7l0.5,-0.9l0.3,-1l0.3,-1.9l0.1,-2.1l-0.2,-3l-0.3,-3.1l-0.7,-6.2l-0.2,-2.5l0.1,-0.9l0.2,-0.3l0.3,-0.1l0.2,0.1l0.5,0.3" stroke="#000000" stroke-width="1.20"/>
<path d="M439.6,401.0l1.5,9.5l1.4,8.4l1.5,7.9l1.5,7.3l1.7,7.4l1.7,6.7l1.9,6.8l2,6.2l2.2,6.6l2.5,6.6l2.8,6.5l2.7,6l2.6,4.9l2.3,4l2.5,3.8l2.4,3.1l1.7,1.9l1.4,1.5l3,2.7l1.6,1.3l1.7,1.1l1.3,0.8l1.4,0.6l1.3,0.3l0.8,0.1l0.9,-0.1l0.8,-0.2l1.2,-0.6l0.7,-0.5l0.6,-0.7l0.9,-1.2l0.5,-0.9l0.7,-1.4l1.1,-3l0.8,-3.6l0.5,-3.5l0.2,-3.1l-0.1,-3.5l-0.6,-11.1l-0.1,-4l0.2,-4l0.4,-3.5" stroke="#0000ff" stroke-width="1.20"/>
<path d="M424.8,401.0l1.5,14l1.4,12l1.5,10.9l1.6,9.9l1.7,9.4l2.1,9.3l2.1,8.7l2.4,8.2l2.5,7.7l2.5,6.6l2.6,6l1.5,3.2l1.4,2.6l1.5,2.6l1.6,2.6l1.7,2.5l1.7,2.4l1.9,2.4l1.7,1.9l2.1,2.3l1.8,1.8l2.3,2.1l2.4,2l2.1,1.5l2.2,1.3l1.8,0.9l1.8,0.7l1.8,0.4l1.7,0.2l1.8,-0.1l1.4,-0.4l1.7,-0.7l1.6,-1l1.5,-1.3l1.4,-1.5l1.3,-1.6l1,-1.9l0.8,-1.4l0.8,-1.9l1.1,-3.5l0.4,-2l0.4,-2l0.4,-4l0.2,-4.6l0.1,-10.6l0.3,-17.9l0,-6.5l-0.2,-6.1" stroke="#008000" stroke-width="1.20"/>
<path d="M409.2,401.0l0.4,15.5l0.8,16l1,17.1l1.3,17.5l1.8,19.5l2,20.2l1.5,12.4l2.1,15.9l0.4,3.6l0.1,3.1l-0.1,1.4l-0.1,1.5l-0.6,2.3l-0.5,1.2l-0.4,0.9l-1,1.6l-1.6,1.8l-1.4,1.3l-2.1,1.4l-2.2,1.2l-2.4,1l-2.4,0.8l-2.5,0.5l-2.5,0.4l-3,0.3l-10.7,0.7l-17.9,1.4l-7.9,0.6l-9.5,0.4l-15.2,0.1l-3.6,0.2l-2.9,0.2l-2.5,0.3l-2.4,0.5l-2.4,0.5l-1.9,0.5l-1.9,0.6l-1.3,0.6l-1.3,0.7l-1.3,0.9" stroke="#ff0000" stroke-width="1.20"/>
<path d="M392.9,401.0l0,9.1l-0.1,9l-0.2,9l-0.3,9.5l-0.5,9l-0.6,9.5l-0.7,9l-0.9,9.4l-1,9.5l-1.1,9.5l-1.2,9.1l-0.9,5.5l-0.9,4.4l-1.1,4.3l-1.3,3.7l-1.3,3.2l-1.4,2.6l-1.6,2.6l-1.4,2l-2,2.3l-2.1,2.3l-2.3,2.1l-2.4,1.9l-2.6,1.8l-3,1.8l-3,1.7l-3.2,1.5l-3.7,1.5l-3.7,1.4l-3.8,1.2l-16.4,5l-3.8,1.4l-3.2,1.5l-2.6,1.5l-2,1.5l-1.9,1.7l-1.3,1.5l-0.4,0.8l0,0.5l0,0.4l0.2,0.4l0.4,0.5l0.5,0.4l0.6,0.3l0.4,-0.2" stroke="#00bfbf" stroke-width="1.20"/>
<path d="M376.8,401.0l-0.6,13.1l-0.4,6.5l-0.5,6l-0.7,6l-0.7,5.9l-0.8,6l-1,5.9l-1,5.9l-1.1,5.4l-1.2,5.3l-1.4,5.4l-1.4,5.3l-1.6,5.3l-1.7,5.3l-1.7,4.8l-1.7,4.3l-1.8,4.1l-1.9,4.1l-1.9,3.5l-2,3.5l-1.8,2.9l-2.3,3.2l-2.2,2.7l-2,2.2l-1.7,1.8l-2.1,2l-2.3,2l-4.6,3.8l-11,8.4l-2.7,2.3l-2.8,2.4l-2.6,2.5l-1.8,1.9l-1.6,1.9l-1.1,1.6l-0.7,1.3l-0.6,1.3l-0.4,1.3l-0.3,1.4l-0.1,1.5l0.1,0.9l0.2,1.5l0.3,0.9l0.4,0.9l0.6,0.7l0.8,0.7l0.4,0.2l1,0.3l0.6,0.1l3.1,0.2l0.4,0.1l0.2,0.1" stroke="#bf00bf" stroke-width="1.20"/>
<path d="M361.0,401.0l-0.1,4.1l-0.2,4.5l-0.7,8.6l-1.1,8.5l-0.8,4.4l-0.8,4.4l-1,4.4l-1,4.4l-2.4,8.7l-2.7,8.5l-3.1,8.5l-3,7.4l-3.3,7.3l-3.5,7.2l-4,7.6l-4.5,7.9l-5,8.1l-4.7,7.3l-7.8,11.2l-2.9,4.6l-1.7,3.1l-1.5,3.1l-1.1,2.7l-0.9,2.7l-0.6,2.4l-0.3,2l-0.3,2.5l-0.1,2l0.1,2.1l0.2,1.6l0.5,1.4l0.5,0.8l0.6,0.7l0.8,0.5l1.1,0.4l0.6,0.1l0.7,0l1.5,0l4.9,-0.7l1.2,-0.1l0.5,0.1l0.3,0.1l0.2,0.2l0,0.4l-0.1,0.4l-0.4,0.5" stroke="#bfbf00" stroke-width="1.20"/>
<path d="M346.4,401.0l-0.5,5.6l-0.6,5.5l-0.8,5.5l-1.1,5.9l-1.2,5.9l-1.6,6.3l-1.7,6.2l-1.9,6.2l-1.8,5.2l-2,5.6l-4.6,12.2l-4.7,11.6l-11.9,28.2l-3.3,8l-2.7,7l-2.6,7.1l-1.9,5.8l-1.4,4.8l-1.1,4.8l-0.4,2.4l-0.3,2.5l-0.2,2.4l-0.1,2l0.1,2.4l0.2,2.5l0.3,1.5l0.3,0.9l0.3,0.3l0.4,0.4l0.5,0.2l0.6,0.2l0.8,0.1l2,0l4.9,-0.4l0.6,0l0.4,0.1l0.1,0.2l-0.2,0.3l-0.6,0.5l-1.1,0.6l-8.4,4.5l-2.3,1.4l-0.3,0.3l0.4,0.1l1.3,-0.3l2.3,-0.7l8.3,-2.9l6.2,-2.3" stroke="#000000" stroke-width="1.20"/>
<path d="M332.3,401.0l-1.1,8.5l-1.5,8.4l-1.9,8.9l-2.5,9.7l-2.3,8.2l-2.7,9.1l-9.3,29.2l-3.2,10.6l-2.8,9.6l-2.3,8.8l-2,8.3l-1.6,7.9l-1.2,7.4l-0.9,7.1l-0.3,3.5l-0.2,3.5l0,3.6l0.1,3l0.3,3l0.3,2.4l0.6,1.9l0.6,1.1l0.6,0.7l1.2,0.7l1.4,0.6l1.5,0.3l1.7,0.3l1.8,0.1l5.4,0.1l3.1,0.1" stroke="#0000ff" stroke-width="1.20"/>
<path d="M319.9,401.0l-0.6,5.5l-0.8,5.5l-1,5.9l-1.3,6.4l-1.2,5.4l-1.6,6.3l-5.7,21.9l-2.2,8.8l-2,9.3l-1.8,9.3l-1.1,6.4l-1,6.9l-2.1,16.4l-2.3,20l-0.4,5.6l-0.3,5l0,3.5l0.1,3.5l0.2,3.5l0.3,3l0.5,2.5l0.3,1.4l0.6,1.3l0.7,1.1l0.7,0.6l1.2,0.6l1.4,0.5l1.5,0.3l2.8,0.2l6.7,-0.1l3.6,0.1" stroke="#008000" stroke-width="1.20"/>
<path d="M309.7,401.0l-2.3,13.8l-5.3,32.2l-2.3,14.4l-2.4,16.9l-1,7.9l-0.9,7.5l-0.7,7.4l-0.6,7.5l-0.4,7l-0.3,7l-0.2,11l0.2,23.1l0.1,2.1l0.2,1.4l0.3,1.4l0.5,1.3l0.7,1.1l0.8,1l1,0.8l1.2,0.7l1.3,0.5l1.5,0.4l1.6,0.3l1.6,0.1l3.9,0.1l6.9,-0.3" stroke="#ff0000" stroke-width="1.20"/>
<path d="M300.8,401.0l-2.2,19.5l-1.9,20l-1.5,20l-1.3,20l-1.1,22l-0.7,22.2l-0.4,20.8l0.1,5.1l0.2,4l0.3,2.5l0.4,2.4l0.4,2l0.4,1.3l0.6,1.3l0.7,1l1,1l1.1,0.7l0.8,0.4l1.4,0.4l1.5,0.3l1.6,0.1l3.4,-0.1l6.5,-0.4l1.9,0l1.1,0.1" stroke="#00bfbf" stroke-width="1.20"/>
<path d="M294.5,401.0l-2.3,59.7l-0.5,19l-0.4,17.5l-0.2,18.1l0.1,17.1l0.3,18.4l0.2,6.6l0.2,3l0.3,1.4l0.3,1.3l0.5,1.2l0.4,0.7l0.7,1l0.7,0.5l0.7,0.4l1.3,0.6l2,0.4l2.9,0.1l3,0l7.9,-0.6l1.6,0.1l0.9,0.1" stroke="#bf00bf" stroke-width="1.20"/>
<path d="M290.88,401.00C290.83,443.01 290.72,500.85 290.74,527.03C290.75,538.87 290.72,546.72 290.81,552.84C290.86,556.23 290.74,558.51 291.02,560.73C291.24,562.39 291.34,563.97 292.03,565.03C292.60,565.92 293.32,566.45 294.47,566.90C296.37,567.64 299.85,567.55 302.93,567.69C306.62,567.85 311.05,567.64 315.12,567.61" stroke="#bfbf00" stroke-width="1.20"/>
<path d="M290.16,401.00C290.16,443.01 290.13,500.85 290.16,527.03C290.18,538.87 290.15,546.54 290.23,552.84C290.29,556.48 290.17,559.15 290.45,561.45C290.64,563.00 290.69,564.36 291.31,565.32C291.84,566.13 292.52,566.63 293.61,567.04C295.50,567.76 299.05,567.64 302.21,567.76C306.08,567.90 310.82,567.66 315.12,567.61" stroke="#000000" stroke-width="1.20"/>
</g>
<path d="M362.88,435.71L354.55,463.62" stroke="#222" stroke-width="1.00" fill="none"/>
<path d="M353.12,468.41L353.02,462.12L356.66,463.20Z" fill="#1a1a1a"/>
<path d="M435.74,435.42L441.81,462.38" stroke="#222" stroke-width="1.00" fill="none"/>
<path d="M442.91,467.26L439.74,461.82L443.45,460.99Z" fill="#1a1a1a"/>
<path d="M496.55,530.61L497.21,517.40" stroke="#222" stroke-width="1.00" fill="none"/>
<path d="M497.41,513.40L498.56,518.46L495.76,518.33Z" fill="#1a1a1a"/>
<circle cx="495.69" cy="468.12" r="1.80" fill="#c01010" stroke="#303010" stroke-width="1.10"/>
<text x="481.92" y="471.56" font-size="7.4" text-anchor="middle" style="font-family:'Liberation Sans',sans-serif">A</text>
<text x="297.91" y="415.77" font-size="8.2" style="font-family:'Liberation Sans',sans-serif">shape 2</text>
<text x="470.20" y="558.70" font-size="8.8" textLength="23" lengthAdjust="spacingAndGlyphs" style="font-family:'Liberation Sans',sans-serif;fill:#444;stroke:#444;stroke-width:0.15px">ψ=60<tspan font-size="6" dy="-3">o</tspan></text>
<rect x="284.50" y="400.75" width="216.45" height="167.25" fill="none" stroke="#333" stroke-width="1"/>
<path d="M289.90,568.00v-5.8M289.90,400.75v5.8M341.40,568.00v-5.8M341.40,400.75v5.8M392.90,568.00v-5.8M392.90,400.75v5.8M444.40,568.00v-5.8M444.40,400.75v5.8M495.90,568.00v-5.8M495.90,400.75v5.8M284.50,567.80h5.8M500.95,567.80h-5.8M284.50,537.28h5.8M500.95,537.28h-5.8M284.50,506.76h5.8M500.95,506.76h-5.8M284.50,476.24h5.8M500.95,476.24h-5.8M284.50,445.72h5.8M500.95,445.72h-5.8M284.50,415.20h5.8M500.95,415.20h-5.8" stroke="#2a2a2a" stroke-width="1.05" fill="none"/>
<text x="289.90" y="578.20" font-size="8.4" text-anchor="middle">−1.0</text>
<text x="341.40" y="578.20" font-size="8.4" text-anchor="middle">−0.5</text>
<text x="392.90" y="578.20" font-size="8.4" text-anchor="middle">0.0</text>
<text x="444.40" y="578.20" font-size="8.4" text-anchor="middle">0.5</text>
<text x="495.90" y="578.20" font-size="8.4" text-anchor="middle">1.0</text>
<text x="281.10" y="570.90" font-size="8.4" text-anchor="end">0</text>
<text x="281.10" y="540.38" font-size="8.4" text-anchor="end">10</text>
<text x="281.10" y="509.86" font-size="8.4" text-anchor="end">20</text>
<text x="281.10" y="479.34" font-size="8.4" text-anchor="end">30</text>
<text x="281.10" y="448.82" font-size="8.4" text-anchor="end">40</text>
<text x="281.10" y="418.30" font-size="8.4" text-anchor="end">50</text>
<text x="392.73" y="588.50" font-size="6.9" text-anchor="middle" style="fill:#3a3a3a;stroke:#3a3a3a;stroke-width:0.12px">cosξ</text>
<text transform="translate(264.30,484.38) rotate(-90)" font-size="7.9" text-anchor="middle" letter-spacing="0.55" style="fill:#3a3a3a;stroke:#3a3a3a;stroke-width:0.12px">J/I<tspan font-size="5.4" dy="2">1</tspan><tspan dy="-2">ω</tspan><tspan font-size="5.4" dy="2">T</tspan></text>
</g>
<g id="panel22">
<g clip-path="url(#cp22)" fill="none" stroke-linecap="round" stroke-linejoin="round" stroke-opacity="0.88">
<path d="M752.26,401.00L752.55,497.62" stroke="#0000ff" stroke-width="1.20"/>
<path d="M750.83,401.00C751.31,420.12 751.98,441.05 752.26,458.37C752.49,472.69 752.45,484.54 752.55,497.62" stroke="#008000" stroke-width="1.20"/>
<path d="M747.7,401.0l1.1,11l1,11.1l0.8,11.5l0.7,11.6l0.5,12.1l0.4,12.6l0.2,13.1l0.1,13.6" stroke="#ff0000" stroke-width="1.20"/>
<path d="M741.5,401.0l3.2,18.9l2.2,13.5l1.8,12.4l1.4,11.1l1.1,11l0.8,10.1l0.4,10l0.1,9.6" stroke="#00bfbf" stroke-width="1.20"/>
<path d="M733.2,401.0l1.5,8.9l2.2,10.4l2.4,9.8l6.5,25.9l1.7,7.3l1.4,6.4l1.3,7.4l1.1,7l0.8,7l0.5,6.5" stroke="#bf00bf" stroke-width="1.20"/>
<path d="M722.6,401.0l2.6,11.8l2.9,11.8l3.3,12.1l3.6,12.1l3.8,12l4.3,12.4l4.6,12.2l4.9,12.2" stroke="#bfbf00" stroke-width="1.20"/>
<path d="M710.4,401.0l2.4,11.8l2.6,11.3l2.8,10.8l2.9,10.1l3,9.6l3.3,9.6l3.5,9.4l3.7,8.9l3.6,7.8l1.6,3.1l1.7,3.1l1.7,2.9l3.5,5.5l1.8,2.9l0.6,0.9l0.7,0.7l0.3,0.2l0.4,0.1l0.3,-0.1l0.4,-0.2l0.6,-0.7l0.3,-0.4l0.3,-1l0.1,-1.5l-0.2,-2.7l0.1,-1l0.1,-1l0.5,-1.2l0.1,-0.5l0,-0.5l-0.2,-0.6l-0.3,-0.7" stroke="#000000" stroke-width="1.20"/>
<path d="M696.3,401.0l4.5,23.1l2.6,12.3l1.4,5.9l1.4,5.9l1.5,5.4l1.4,4.8l1.6,5.3l1.8,5.2l1.8,4.7l1.9,4.6l2,4.6l2,4l2,4l2.5,4.4l3.6,6l3.9,5.9l4.1,5.7l4.6,6l2.9,3.6l1.4,1.4l0.8,0.6l0.8,0.6l1,0.4l0.9,0.2l0.5,0l0.8,-0.3l0.4,-0.3l0.5,-0.8l0.4,-0.9l0.3,-1l0.5,-2.6l0.2,-2l0.1,-2l0.2,-13.1l-0.1,-5" stroke="#0000ff" stroke-width="1.20"/>
<path d="M681.7,401.0l1.8,14.9l1.3,9.9l1.3,9l1.3,8.5l1.5,7.9l1.5,7.4l1.8,7.4l1.8,6.8l2.1,6.7l2.3,6.6l2.6,6.5l2.6,5.9l2.9,5.9l3,5.2l3.1,5.1l3.5,5l2.1,2.8l2.2,2.7l2.4,2.7l2,2.2l2.2,2.2l2.2,2l2,1.7l2,1.5l2.1,1.3l2.2,1.3l2.3,1l2.5,0.8l1.4,0.3l1.5,0.1l1.3,-0.1l1.3,-0.5l0.8,-0.6l0.7,-0.7l0.6,-0.8l0.8,-1.3l0.4,-1l0.5,-1.4l0.3,-1.5l0.2,-1.5l0.3,-5.2l0.1,-7.1l0.1,-23" stroke="#008000" stroke-width="1.20"/>
<path d="M665.8,401.0l0.4,10l0.6,10.5l0.8,11l1.2,12.5l1.8,17l2.4,21.9l1.3,9.3l1.4,7.9l1.5,6.9l1.6,6.4l1.9,5.9l2,5.2l2.4,5l2.4,4.4l1.3,2.1l1.4,2l1.5,1.9l1.6,1.9l2.4,2.4l2.6,2.3l2.7,2l2.6,1.6l3.1,1.6l3.8,1.7l3.9,1.4l3.9,1.2l5.1,1.2l5.9,1.2l4.9,0.8l2.9,0.3l1.4,0l1.6,-0.2l1.5,-0.2l1.5,-0.4l1.4,-0.5l0.9,-0.4l1.3,-0.7l0.8,-0.5l1.1,-1l0.6,-0.7l0.8,-1.2l0.6,-1.4l0.4,-1.4l0.4,-1.5l0.3,-2.1l0.2,-2.1l0.4,-6.5l0.2,-10.5l0,-31.6" stroke="#ff0000" stroke-width="1.20"/>
<path d="M649.6,401.0l-0.1,30.1l-0.4,26.5l-0.5,25.5l-0.5,12.6l-0.3,7.1l-0.3,5l-0.4,4.5l-0.6,4.5l-0.6,3.9l-0.8,3.9l-0.9,3.4l-1,3.4l-1.2,3.3l-1.3,3.2l-1.6,3.1l-1.9,2.9l-1.8,2.2l-2.1,2.1l-1.9,1.5l-2.6,1.5l-2.9,1.3l-3.5,1.2l-4.1,1.1l-10.8,2.7l-7.6,1.6l-5.2,0.9l-5.4,0.7l-4.7,0.5l-6.6,0.3l-2.2,0.2l-2,0.5l-0.9,0.3l-0.8,0.4l-0.7,0.5l-0.6,0.6l-0.3,0.6l-0.1,0.7l0.1,0.3l0.4,0.7l0.6,0.5l0.7,0.3l1.4,0.4l1.6,0.2l2.4,-0.1l5.9,-0.3l1.4,0.1l1.1,0.2" stroke="#00bfbf" stroke-width="1.20"/>
<path d="M633.5,401.0l0,6.5l-0.1,6.6l-0.3,6.5l-0.5,6.5l-0.6,6.5l-0.9,7l-0.9,6.9l-1.3,7.5l-1.5,8.4l-1.8,8.8l-2.3,9.8l-2.1,8.8l-1.7,5.7l-1.6,5.3l-1.8,4.7l-1.7,4.1l-1.6,3.2l-1.7,3.1l-1.8,3l-2,3l-2.2,2.9l-2.3,2.7l-2.4,2.6l-2.5,2.5l-2.3,2l-1.9,1.6l-2.4,1.7l-2.1,1.4l-4.2,2.4l-8,4l-3.1,1.7l-3.1,1.9l-2.6,1.8l-3,2.3l-2.4,2.3l-1,1.2l-0.6,0.8l-0.6,1.2l-0.3,0.7l-0.2,1.2l0.1,0.7l0.3,0.7l0.7,1l0.6,0.6l1.2,0.8l1,0.4l1.5,0.5l2.7,0.5l3.3,0.3l3.1,0.1l7.4,0l4,0.2" stroke="#bf00bf" stroke-width="1.20"/>
<path d="M617.7,401.0l0.1,4.6l-0.2,5.1l-0.3,5l-0.4,5l-0.7,5l-0.8,5.4l-0.9,4.9l-1.2,5.4l-1.3,5.3l-1.4,5.3l-1.7,5.8l-1.8,5.8l-2.1,6.1l-2.3,6.2l-2.5,6.6l-2.6,6.5l-2.5,6.1l-2.4,5l-2.4,4.4l-2.5,4.2l-3.2,4.6l-3.9,5.2l-4.1,5.1l-10.9,13l-3.1,3.9l-2.4,3.3l-2.2,3.4l-1.5,2.7l-1.2,3l-0.4,1.6l-0.4,1.5l-0.2,2.1l0,1.4l0.3,1.8l0.5,1.2l0.7,1.1l0.9,0.9l1.1,0.8l1.7,0.8l1.9,0.6l2.1,0.4l2.2,0.3l2.7,0.2l4.2,0.1l9.3,-0.2l4.1,0.1" stroke="#bfbf00" stroke-width="1.20"/>
<path d="M603.0,401.0l-0.2,5.7l-0.4,6.1l-0.6,5.5l-0.9,6l-1.2,5.8l-1.5,6.3l-1.8,6.3l-2.1,6.6l-2,5.6l-2.1,5.6l-2.5,6l-2.8,6.4l-5.4,11.9l-13.8,29.1l-3.7,8.2l-3.2,7.4l-3.1,7.9l-1.8,5.1l-0.7,2.4l-0.6,2.4l-0.5,2.5l-0.2,2l-0.2,2.5l0,2.6l0.3,2.6l0.4,2l0.5,1.4l0.8,1.2l1.1,0.9l1.2,0.7l1.9,0.6l2.4,0.7l2.5,0.4l3,0.3l4.6,0.1l10.7,-0.3l4.9,0.1" stroke="#000000" stroke-width="1.20"/>
<path d="M589.0,401.0l-0.3,4.1l-0.5,4.5l-0.6,4.5l-0.8,4.4l-0.9,4.4l-1.1,4.9l-1.3,4.9l-1.3,4.8l-2.6,8.1l-3.2,9.4l-3.3,9l-7.7,20.7l-3.7,10.3l-3.4,10.5l-2.6,9.1l-1.2,4.9l-1,4.4l-0.8,4.4l-0.7,4l-0.6,4l-0.4,4l-0.3,4l-0.1,3.6l0,4l0.2,3.6l0.3,3.5l0.4,1.9l0.4,1.4l0.7,1.2l0.9,1l1.5,1.1l1.7,0.8l1.9,0.6l2,0.4l2.5,0.3l3.7,0.1l9.4,-0.2l6.6,0.2l1.5,0l1.7,-0.2" stroke="#0000ff" stroke-width="1.20"/>
<path d="M576.6,401.0l-0.7,6l-0.9,6.5l-1.3,6.9l-1.5,6.8l-1.5,6.4l-1.9,7.3l-7.2,25.6l-2.8,10.6l-1.4,5.9l-1.2,5.3l-1,5.4l-1,5.5l-1.2,7.4l-1,7.4l-0.8,7.5l-0.7,8l-0.5,8.5l-0.3,8l0,6.1l0.2,5.7l0.2,2.1l0.2,1.4l0.5,1.4l0.7,1.1l1,1l1.2,0.7l1.7,0.8l1.9,0.6l1.9,0.5l2,0.3l2,0.2l2,0.1l4.7,-0.1l10.8,-0.5l2.9,0l2.4,0.2" stroke="#008000" stroke-width="1.20"/>
<path d="M566.5,401.0l-1.3,10l-1.7,10.9l-1.9,10.3l-4.7,24.1l-2.2,11.9l-1.6,10.4l-1.3,10.5l-0.7,7.5l-0.6,7.5l-0.5,7.5l-0.4,8l-0.4,10.4l-0.2,17l-0.2,8.5l0.1,2.2l0.1,1.5l0.3,1.9l0.5,1.3l0.7,1.2l0.8,1l1,0.9l1.6,0.9l1.3,0.6l1.8,0.5l1.4,0.3l1.5,0.2l3.1,0.1l3.8,-0.1l9,-0.5l1.9,0l5.1,0.2l3.2,-0.1" stroke="#ff0000" stroke-width="1.20"/>
<path d="M557.5,401.0l-2.7,24.6l-2.1,22.5l-1.7,20.9l-1.3,19.9l-0.5,10.5l-0.5,10.1l-0.3,10.1l-0.2,10.1l-0.1,12.3l0,11.8l0.2,3.6l0.3,2.4l0.3,1.4l0.4,1.2l0.6,1.2l0.8,1.1l1,0.9l1.1,0.8l1.3,0.6l1.4,0.4l2.5,0.3l3.2,0.2l24.8,-0.3" stroke="#00bfbf" stroke-width="1.20"/>
<path d="M551.3,401.0l-2.5,71.1l-0.5,17.5l-0.3,15.5l-0.3,18.6l0.1,17.8l0.2,15.8l0.1,2.5l0.3,1.8l0.4,1.3l0.5,1.2l0.5,0.7l0.8,0.9l1.1,0.8l1.2,0.6l1.4,0.4l1.5,0.3l2.6,0.2l3.4,0.1l17.2,-0.5l7,0" stroke="#bf00bf" stroke-width="1.20"/>
<path d="M547.74,401.00C547.69,443.01 547.61,501.36 547.60,527.03C547.59,538.32 547.50,545.20 547.60,551.41C547.66,555.25 547.56,558.20 547.88,560.73C548.11,562.50 548.16,564.10 548.89,565.18C549.51,566.09 550.37,566.61 551.61,567.04C553.64,567.75 556.98,567.55 560.36,567.69C564.99,567.87 572.16,567.79 576.86,567.76C580.35,567.74 582.95,567.65 586.00,567.60" stroke="#bfbf00" stroke-width="1.20"/>
<path d="M547.02,401.00C547.02,443.01 546.99,500.85 547.02,527.03C547.04,538.87 547.01,546.54 547.10,552.84C547.15,556.48 547.04,559.13 547.31,561.45C547.50,563.05 547.51,564.49 548.17,565.46C548.75,566.31 549.56,566.78 550.75,567.18C552.77,567.87 556.19,567.65 559.64,567.76C564.44,567.91 572.02,567.80 576.86,567.76C580.38,567.73 582.95,567.65 586.00,567.60" stroke="#000000" stroke-width="1.20"/>
</g>
<path d="M619.59,438.58L614.02,469.94" stroke="#222" stroke-width="1.00" fill="none"/>
<path d="M613.14,474.86L612.32,468.62L616.06,469.29Z" fill="#1a1a1a"/>
<path d="M692.46,442.31L702.14,470.14" stroke="#222" stroke-width="1.00" fill="none"/>
<path d="M703.79,474.86L700.02,469.82L703.61,468.57Z" fill="#1a1a1a"/>
<path d="M754.70,557.86L754.83,539.28" stroke="#222" stroke-width="1.00" fill="none"/>
<path d="M754.84,536.78L756.12,540.29L753.52,540.27Z" fill="#1a1a1a"/>
<circle cx="752.55" cy="497.62" r="1.70" fill="#e00000" stroke="#600000" stroke-width="0.80"/>
<rect x="540.95" y="400.75" width="216.55" height="167.25" fill="none" stroke="#333" stroke-width="1"/>
<path d="M546.50,568.00v-5.8M546.50,400.75v5.8M598.00,568.00v-5.8M598.00,400.75v5.8M649.50,568.00v-5.8M649.50,400.75v5.8M701.00,568.00v-5.8M701.00,400.75v5.8M752.50,568.00v-5.8M752.50,400.75v5.8M540.95,567.80h5.8M757.50,567.80h-5.8M540.95,537.28h5.8M757.50,537.28h-5.8M540.95,506.76h5.8M757.50,506.76h-5.8M540.95,476.24h5.8M757.50,476.24h-5.8M540.95,445.72h5.8M757.50,445.72h-5.8M540.95,415.20h5.8M757.50,415.20h-5.8" stroke="#2a2a2a" stroke-width="1.05" fill="none"/>
<text x="546.50" y="578.20" font-size="8.4" text-anchor="middle">−1.0</text>
<text x="598.00" y="578.20" font-size="8.4" text-anchor="middle">−0.5</text>
<text x="649.50" y="578.20" font-size="8.4" text-anchor="middle">0.0</text>
<text x="701.00" y="578.20" font-size="8.4" text-anchor="middle">0.5</text>
<text x="752.50" y="578.20" font-size="8.4" text-anchor="middle">1.0</text>
<text x="537.55" y="570.90" font-size="8.4" text-anchor="end">0</text>
<text x="537.55" y="540.38" font-size="8.4" text-anchor="end">10</text>
<text x="537.55" y="509.86" font-size="8.4" text-anchor="end">20</text>
<text x="537.55" y="479.34" font-size="8.4" text-anchor="end">30</text>
<text x="537.55" y="448.82" font-size="8.4" text-anchor="end">40</text>
<text x="537.55" y="418.30" font-size="8.4" text-anchor="end">50</text>
<text x="649.23" y="588.50" font-size="6.9" text-anchor="middle" style="fill:#3a3a3a;stroke:#3a3a3a;stroke-width:0.12px">cosξ</text>
<text transform="translate(520.75,484.38) rotate(-90)" font-size="7.9" text-anchor="middle" letter-spacing="0.55" style="fill:#3a3a3a;stroke:#3a3a3a;stroke-width:0.12px">J/I<tspan font-size="5.4" dy="2">1</tspan><tspan dy="-2">ω</tspan><tspan font-size="5.4" dy="2">T</tspan></text>
<text x="744.66" y="496.19" font-size="12.50" text-anchor="middle">A</text>
<text x="553.62" y="415.34" font-size="11.40" text-anchor="start">shape 2</text>
<text x="633.94" y="560.73" font-size="13.60" text-anchor="start">ψ=80<tspan font-size="9.5" dy="-4.6">o</tspan></text>
</g>
</svg></body></html>
